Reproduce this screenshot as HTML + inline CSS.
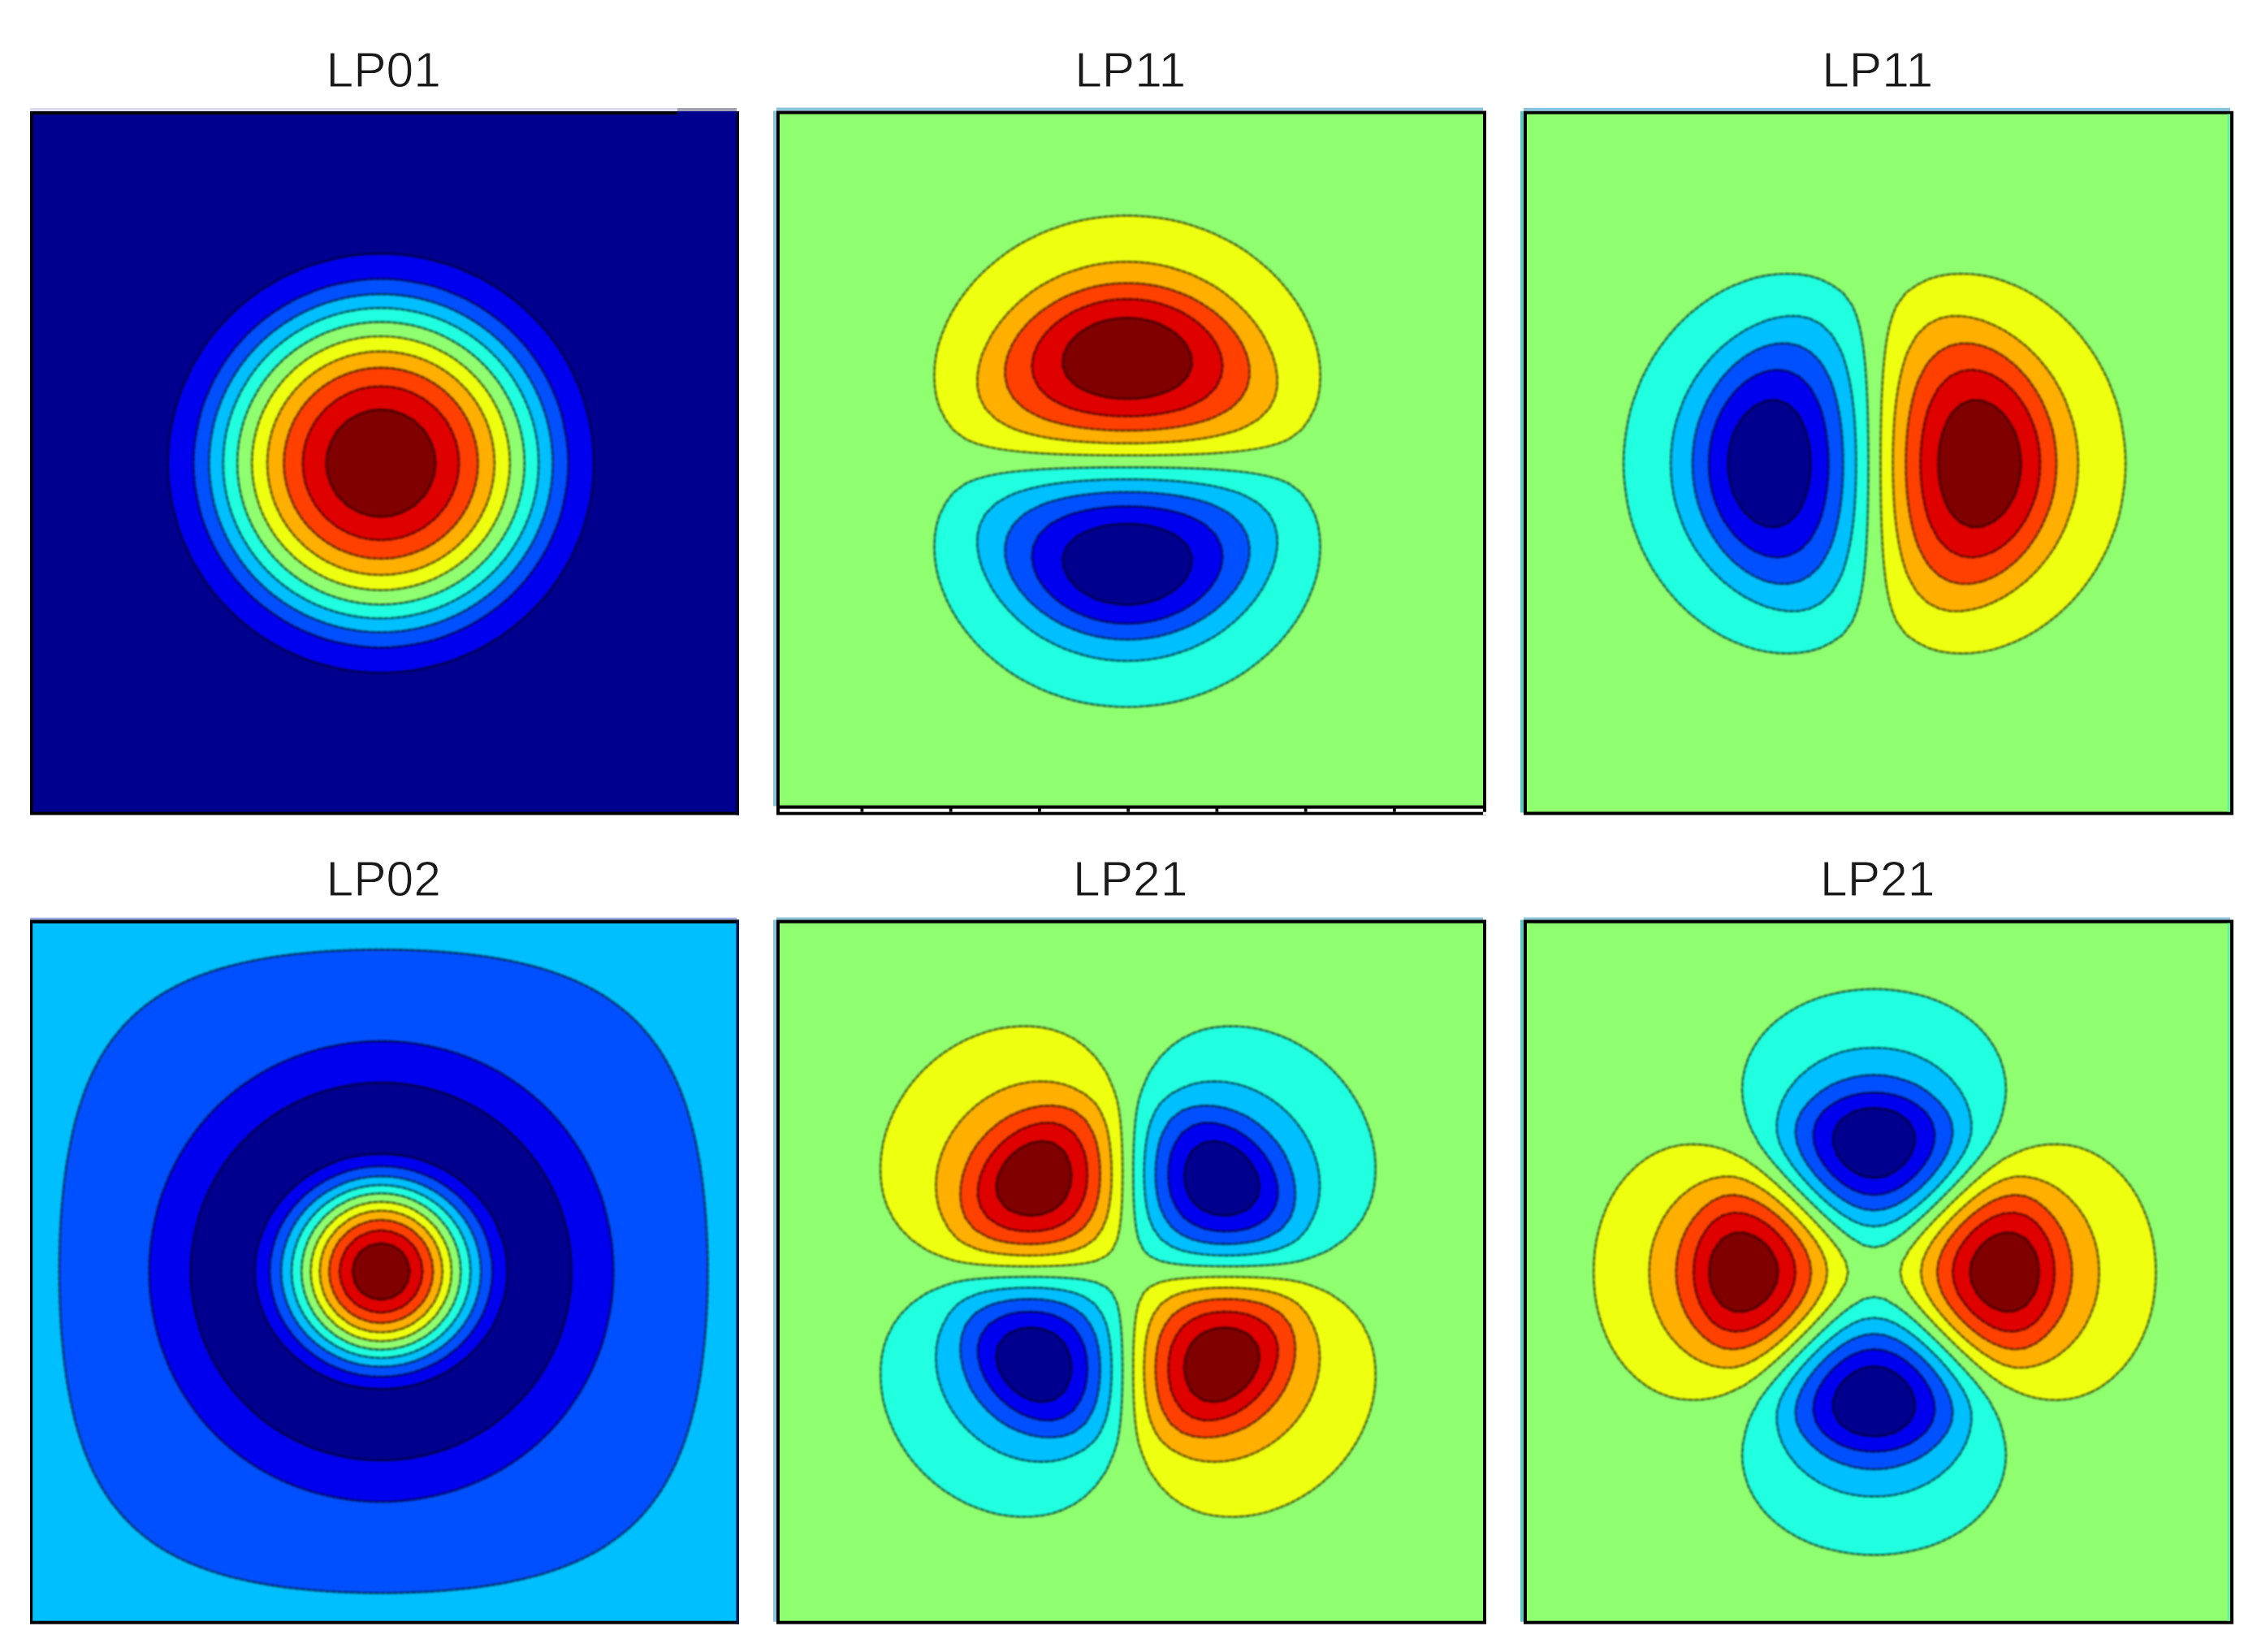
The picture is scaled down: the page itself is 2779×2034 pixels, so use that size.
<!DOCTYPE html>
<html lang="en"><head><meta charset="utf-8"><title>LP fiber modes</title>
<style>html,body{margin:0;padding:0;background:#fff}body{width:2779px;height:2034px;overflow:hidden;font-family:"Liberation Sans",sans-serif}svg{display:block}text{font-family:"Liberation Sans",sans-serif;font-size:60.6px;fill:#1a1a1a;text-anchor:middle;stroke:#fff;stroke-width:.9px;filter:blur(.6px)}.ct{filter:blur(1px)}.ln,.dt{stroke:#000;stroke-width:2.7;stroke-linejoin:round}.ln{stroke-opacity:0.46}.dt{fill-opacity:0;stroke-opacity:.26;stroke-dasharray:3.8 3.8}.c0{fill:#00008f}.c1{fill:#0000ef}.c2{fill:#0050ff}.c3{fill:#00bfff}.c4{fill:#20ffdf}.c5{fill:#8fff70}.c6{fill:#efff10}.c7{fill:#ffaf00}.c8{fill:#ff4000}.c9{fill:#df0000}.c10{fill:#800000}</style></head><body>
<svg width="2779" height="2034" viewBox="0 0 2779 2034">
<rect width="2779" height="2034" fill="#fff"/>
<!-- panel 1: LP01 -->
<rect x="37" y="133" width="797" height="4" fill="#e0dcf0"/>
<rect x="834" y="133" width="73" height="4" fill="#a0a0b0"/>
<rect x="37" y="137" width="873" height="866.5" fill="#000"/>
<rect x="40.5" y="141" width="866" height="858.6" fill="#00008f"/>
<svg class="ct" x="40.5" y="141" width="866" height="858.6" viewBox="40.5 141 866 858.6" overflow="hidden">
<g class="ln"><g id="m1">
<path class="c1" d="M535.5 819.4l-13.3 3.4l-13.3 2.5l-13.3 1.6l-13.3 1l-13.3 0.3l-13.3 -0.3l-13.3 -1l-13.3 -1.6l-13.3 -2.5l-13.3 -3.4l-1.5 -0.4l-11.8 -3.1l-13.3 -4.5l-13.3 -5.8l-13.3 -5.9l-13.3 -7.5l-13.3 -8l-13.3 -9.5l-13.3 -10.9l-11.2 -10.3l-2.1 -2.1l-10.5 -11l-11 -13l-9.6 -13.1l-8.2 -13.1l-7.6 -13.1l-6 -13.1l-5.9 -13.1l-4.6 -13.1l-3.1 -11.7l-0.5 -1.4l-3.4 -13l-2.5 -13.1l-1.7 -13.1l-1 -13.1l-0.3 -13.1l0.3 -13.1l1 -13.1l1.7 -13.1l2.5 -13.1l3.4 -13l0.5 -1.4l3.1 -11.7l4.6 -13.1l5.9 -13.1l6 -13.1l7.6 -13.1l8.2 -13.1l9.6 -13.1l11 -13l10.5 -11l2.2 -2.1l11.1 -10.3l13.3 -10.9l13.3 -9.4l13.3 -8.1l13.3 -7.5l13.3 -5.9l13.3 -5.8l13.3 -4.5l11.9 -3.1l1.4 -0.4l13.3 -3.4l13.3 -2.5l13.3 -1.6l13.3 -1l13.3 -0.3l13.3 0.3l13.3 1l13.3 1.6l13.3 2.5l13.3 3.4l1.4 0.4l11.9 3.1l13.3 4.5l13.3 5.8l13.3 5.9l13.3 7.5l13.3 8.1l13.3 9.4l13.3 10.9l11.2 10.3l2.1 2.1l10.5 11l11 13l9.6 13.1l8.2 13.1l7.6 13.1l6 13.1l5.9 13.1l4.6 13.1l3.1 11.6l0.5 1.5l3.4 13l2.5 13.1l1.7 13.1l1 13.1l0.3 13.1l-0.3 13.1l-1 13.1l-1.7 13.1l-2.5 13.1l-3.4 13l-0.5 1.5l-3.1 11.6l-4.6 13.1l-5.9 13.1l-6 13.1l-7.6 13.1l-8.2 13.1l-9.6 13.1l-8.2 9.8l-2.8 3.2l-10.5 11l-2.1 2.1l-11.2 10.3l-13.3 10.9l-13.3 9.5l-13.3 8l-13.3 7.5l-13.3 5.9l-13.3 5.8l-13.3 4.5l-11.8 3.1z"/>
<path class="c2" d="M508.9 793.5l-13.3 2.1l-13.3 1.3l-13.3 0.4l-13.3 -0.4l-13.3 -1.3l-13.3 -2.1l-3.2 -0.7l-10.1 -1.8l-13.3 -3.4l-13.3 -4.5l-8 -3.4l-5.3 -2l-13.3 -6.1l-8.6 -5l-4.7 -2.5l-13.3 -8.7l-13.3 -9.9l-6 -5.1l-7.3 -6.5l-6.6 -6.5l-6.7 -7.3l-5.2 -5.8l-10 -13.1l-8.8 -13.1l-2.6 -4.6l-5 -8.5l-6.3 -13.1l-2 -5.2l-3.5 -7.9l-4.6 -13.1l-3.3 -13l-1.9 -10l-0.7 -3.1l-2.2 -13.1l-1.2 -13.1l-0.5 -13.1l0.5 -13.1l1.2 -13.1l2.2 -13.1l0.7 -3.1l1.9 -10l3.3 -13l4.6 -13.1l3.5 -7.9l2 -5.2l6.3 -13.1l5 -8.5l2.6 -4.6l8.8 -13.1l10 -13.1l5.2 -5.8l6.7 -7.3l6.6 -6.5l7.3 -6.5l6 -5.1l13.3 -9.9l13.3 -8.7l4.7 -2.5l8.6 -5l13.3 -6.1l5.3 -2l8 -3.4l13.3 -4.5l13.3 -3.4l10.2 -1.8l3.1 -0.7l13.3 -2.1l13.3 -1.3l13.3 -0.4l13.3 0.4l13.3 1.3l13.3 2.1l3.1 0.7l10.2 1.8l13.3 3.4l13.3 4.5l8 3.4l5.3 2l13.3 6.1l8.6 5l4.7 2.5l13.3 8.7l13.3 9.9l6 5.1l7.3 6.5l6.6 6.5l6.7 7.3l5.2 5.8l10 13.1l8.8 13.1l2.6 4.6l5 8.5l6.3 13.1l2 5.2l3.5 7.9l4.6 13.1l3.3 13l1.9 10l0.7 3.1l2.2 13.1l1.3 13.1l0.4 13.1l-0.4 13.1l-1.3 13.1l-2.2 13.1l-0.7 3.1l-1.9 10l-3.3 13l-4.6 13.1l-3.5 7.9l-2 5.2l-6.3 13.1l-5 8.5l-2.6 4.6l-8.8 13.1l-10 13.1l-5.2 5.8l-6.7 7.3l-6.6 6.5l-7.3 6.5l-6 5.1l-13.3 9.9l-13.3 8.7l-4.7 2.5l-8.6 5l-13.3 6.1l-5.3 2l-8 3.4l-13.3 4.5l-13.3 3.4l-10.1 1.8z"/>
<path class="c3" d="M535.5 767.9l-13.3 3.8l-13.3 3l-13.3 2.1l-13.3 1.2l-13.3 0.4l-13.3 -0.4l-13.3 -1.2l-13.3 -2.1l-13.3 -3l-13.3 -3.8l-3.5 -1.3l-9.8 -3.6l-13.3 -5.8l-7 -3.7l-6.3 -3.4l-13.3 -8.2l-2 -1.5l-11.3 -8.3l-5.7 -4.7l-7.6 -6.9l-6.3 -6.2l-7 -7.5l-4.8 -5.6l-8.5 -11.1l-1.4 -2l-8.4 -13.1l-3.5 -6.2l-3.7 -6.9l-5.9 -13.1l-5 -13.1l-3.9 -13l-3 -13.1l-2.1 -13.1l-1.3 -13.1l-0.4 -13.1l0.4 -13.1l1.3 -13.1l2.1 -13.1l3 -13.1l3.9 -13l1.3 -3.4l3.7 -9.7l5.9 -13.1l3.7 -6.9l3.5 -6.2l8.4 -13.1l1.4 -2l8.5 -11.1l4.8 -5.5l7 -7.6l6.3 -6.2l7.6 -6.9l5.7 -4.7l11.3 -8.3l2 -1.5l13.3 -8.2l6.3 -3.4l7 -3.6l13.3 -5.9l13.3 -4.9l13.3 -3.8l13.3 -3l13.3 -2l13.3 -1.3l13.3 -0.4l13.3 0.4l13.3 1.3l13.3 2l13.3 3l13.3 3.8l3.4 1.3l9.9 3.6l13.3 5.9l7 3.6l6.3 3.4l13.3 8.2l2 1.5l11.3 8.3l5.7 4.7l7.6 6.9l6.3 6.2l7 7.6l4.8 5.5l8.5 11.1l1.4 2l8.4 13.1l3.5 6.2l3.7 6.9l5.9 13.1l5 13.1l3.9 13l3 13.1l2.1 13.1l1.3 13.1l0.4 13.1l-0.4 13.1l-1.3 13.1l-2.1 13.1l-3 13.1l-3.9 13l-1.3 3.4l-3.7 9.7l-5.9 13.1l-3.7 6.9l-3.5 6.2l-8.4 13.1l-1.4 2l-8.5 11.1l-4.8 5.6l-7 7.5l-6.3 6.2l-7.6 6.9l-5.7 4.7l-11.3 8.3l-2 1.5l-13.3 8.2l-6.3 3.4l-7 3.7l-13.3 5.8z"/>
<path class="c4" d="M522.2 754.1l-13.3 3.2l-13.3 2.3l-13.3 1.4l-13.3 0.4l-13.3 -0.4l-13.3 -1.4l-13.3 -2.3l-13.3 -3.2l-13.3 -4.3l-13.3 -5.3l-8.5 -4.1l-4.8 -2.4l-13.3 -7.8l-4.2 -2.8l-9.1 -6.7l-7.9 -6.4l-5.4 -4.8l-8.5 -8.3l-4.8 -5.3l-6.6 -7.8l-6.7 -9l-2.8 -4.1l-8 -13.1l-2.5 -4.7l-4.1 -8.4l-5.5 -13.1l-4.3 -13l-3.3 -13.1l-2.3 -13.1l-1.4 -13.1l-0.4 -13.1l0.5 -13.1l1.3 -13.1l2.3 -13.1l3.3 -13.1l4.3 -13l5.5 -13.1l4.1 -8.4l2.5 -4.7l8 -13.1l2.8 -4.1l6.7 -9l6.6 -7.8l4.9 -5.3l8.4 -8.3l5.4 -4.8l7.9 -6.4l9.2 -6.7l4.1 -2.8l13.3 -7.8l4.8 -2.4l8.5 -4.1l13.3 -5.3l13.3 -4.3l13.3 -3.2l13.3 -2.3l13.3 -1.3l13.3 -0.5l13.3 0.4l13.3 1.4l13.3 2.3l13.3 3.2l13.3 4.3l13.3 5.3l8.5 4.1l4.8 2.4l13.3 7.8l4.1 2.8l9.2 6.7l7.9 6.4l5.4 4.8l8.4 8.3l4.9 5.3l6.6 7.8l6.7 9l2.8 4.1l8 13.1l2.5 4.7l4.1 8.4l5.5 13.1l4.3 13l3.3 13.1l2.3 13.1l1.4 13.1l0.4 13.1l-0.4 13.1l-1.4 13.1l-2.3 13.1l-3.3 13.1l-4.3 13l-5.5 13.1l-4.1 8.4l-2.5 4.7l-8 13.1l-2.8 4.1l-6.7 9l-6.6 7.8l-4.8 5.3l-8.5 8.3l-5.4 4.8l-7.9 6.4l-9.1 6.7l-4.2 2.8l-13.3 7.8l-4.8 2.4l-8.5 4.1l-13.3 5.4z"/>
<path class="c5" d="M495.6 742.3l-13.3 1.5l-13.3 0.5l-13.3 -0.5l-13.3 -1.5l-13.3 -2.5l-13.3 -3.6l-13.3 -4.7l-9.4 -4.1l-3.9 -1.9l-13.3 -7.3l-6 -3.9l-7.3 -5.1l-10 -8l-3.3 -2.9l-10.3 -10.2l-3 -3.3l-8.1 -9.8l-5.2 -7.2l-3.9 -5.9l-7.5 -13.1l-1.9 -3.9l-4.2 -9.2l-4.8 -13l-3.6 -13.1l-2.6 -13.1l-1.5 -13.1l-0.5 -13.1l0.5 -13.1l1.5 -13.1l2.6 -13.1l3.6 -13.1l4.8 -13l4.2 -9.2l1.9 -3.9l7.5 -13.1l3.9 -5.9l5.2 -7.2l8.1 -9.8l3 -3.3l10.3 -10.2l3.3 -2.9l10 -8l7.3 -5.1l6 -3.8l13.3 -7.4l4 -1.9l9.3 -4.1l13.3 -4.7l13.3 -3.6l13.3 -2.5l13.3 -1.5l13.3 -0.4l13.3 0.4l13.3 1.5l13.3 2.5l13.3 3.6l13.3 4.7l9.3 4.1l4 1.9l13.3 7.4l6 3.8l7.3 5.1l10 8l3.3 2.9l10.3 10.2l3 3.3l8.1 9.8l5.2 7.2l3.9 5.9l7.5 13.1l1.9 3.9l4.2 9.2l4.8 13l3.6 13.1l2.6 13.1l1.5 13.1l0.5 13.1l-0.5 13.1l-1.5 13.1l-2.6 13.1l-3.6 13.1l-4.8 13l-4.2 9.2l-1.9 3.9l-7.5 13.1l-3.9 5.9l-5.2 7.2l-8.1 9.8l-3 3.3l-10.3 10.2l-3.3 2.9l-10 8l-7.3 5.1l-6 3.9l-13.3 7.3l-3.9 1.9l-9.4 4.1l-13.3 4.7l-13.3 3.6z"/>
<path class="c6" d="M522.2 717.6l-13.3 4l-13.3 2.8l-13.3 1.7l-13.3 0.5l-13.3 -0.5l-13.3 -1.7l-13.3 -2.8l-13.3 -4l-8.5 -3.3l-4.8 -2l-13.3 -6.9l-6.9 -4.2l-6.4 -4.3l-11.3 -8.8l-2 -1.7l-11.5 -11.4l-1.8 -2l-9 -11.1l-4.3 -6.3l-4.3 -6.8l-7 -13.1l-2 -4.7l-3.4 -8.3l-4 -13.1l-2.9 -13.1l-1.7 -13.1l-0.6 -13.1l0.6 -13.1l1.7 -13.1l2.9 -13.1l4 -13.1l3.4 -8.3l2 -4.7l7 -13.1l4.3 -6.8l4.4 -6.3l8.9 -11.1l1.8 -2l11.5 -11.3l2 -1.8l11.3 -8.8l6.4 -4.3l6.9 -4.2l13.3 -6.8l4.9 -2.1l8.4 -3.3l13.3 -4l13.3 -2.8l13.3 -1.7l13.3 -0.5l13.3 0.5l13.3 1.7l13.3 2.8l13.3 4l8.5 3.3l4.8 2.1l13.3 6.8l6.9 4.2l6.4 4.3l11.3 8.8l2 1.7l11.5 11.4l1.8 2l9 11.1l4.3 6.3l4.3 6.8l7 13.1l2 4.7l3.4 8.3l4 13.1l2.9 13.1l1.7 13.1l0.6 13.1l-0.6 13.1l-1.7 13.1l-2.9 13.1l-4 13.1l-3.4 8.3l-2 4.7l-7 13.1l-4.3 6.8l-4.3 6.3l-9 11.1l-1.8 2l-11.5 11.4l-2 1.7l-11.3 8.8l-6.4 4.3l-6.9 4.2l-13.3 6.9l-4.8 2z"/>
<path class="c7" d="M508.9 702.4l-13.3 3.1l-13.3 1.9l-13.3 0.6l-13.3 -0.6l-13.3 -1.9l-13.3 -3.1l-3.6 -1.2l-9.7 -3.5l-13.3 -6.2l-5.9 -3.4l-7.4 -4.7l-11.2 -8.4l-2.1 -1.8l-11.4 -11.3l-1.9 -2.1l-8.6 -11l-4.7 -7.2l-3.5 -5.9l-6.3 -13l-3.5 -9.6l-1.2 -3.5l-3.2 -13.1l-1.9 -13.1l-0.7 -13.1l0.7 -13.1l1.9 -13.1l3.2 -13.1l1.2 -3.5l3.5 -9.6l6.3 -13l3.5 -5.9l4.7 -7.2l8.6 -11l1.9 -2.1l11.4 -11.3l2.2 -1.8l11.1 -8.4l7.4 -4.7l5.9 -3.4l13.3 -6.2l9.7 -3.5l3.6 -1.2l13.3 -3.1l13.3 -1.9l13.3 -0.6l13.3 0.6l13.3 1.9l13.3 3.1l3.6 1.2l9.7 3.5l13.3 6.2l5.9 3.4l7.4 4.7l11.1 8.4l2.2 1.8l11.4 11.3l1.9 2.1l8.6 11l4.7 7.2l3.5 5.9l6.3 13l3.5 9.6l1.2 3.5l3.2 13.1l1.9 13.1l0.7 13.1l-0.7 13.1l-1.9 13.1l-3.2 13.1l-1.2 3.5l-3.5 9.6l-6.3 13l-3.5 5.9l-4.7 7.2l-8.6 11l-1.9 2.1l-11.4 11.3l-2.1 1.8l-11.2 8.4l-7.4 4.7l-5.9 3.4l-13.3 6.2l-9.7 3.5z"/>
<path class="c8" d="M522.2 675.7l-13.3 5.4l-13.3 3.9l-13.3 2.3l-13.3 0.7l-13.3 -0.7l-13.3 -2.3l-13.3 -3.9l-13.3 -5.4l-1.4 -0.7l-11.9 -7l-8.4 -6.1l-4.9 -4.1l-9.2 -9l-4.1 -4.8l-6.2 -8.3l-7.1 -11.7l-0.7 -1.3l-5.5 -13.1l-3.9 -13.1l-2.4 -13.1l-0.7 -13.1l0.7 -13.1l2.4 -13.1l3.9 -13.1l5.5 -13.1l0.7 -1.3l7.1 -11.7l6.2 -8.3l4.2 -4.8l9.1 -9l4.9 -4.1l8.4 -6.1l12 -7l1.3 -0.7l13.3 -5.4l13.3 -3.9l13.3 -2.3l13.3 -0.7l13.3 0.7l13.3 2.3l13.3 3.9l13.3 5.4l1.3 0.7l12 7l8.4 6.1l4.9 4.1l9.1 9l4.2 4.8l6.2 8.3l7.1 11.7l0.7 1.3l5.5 13.1l3.9 13.1l2.4 13.1l0.7 13.1l-0.7 13.1l-2.4 13.1l-3.9 13.1l-5.5 13.1l-0.7 1.3l-7.1 11.7l-6.2 8.3l-4.1 4.8l-9.2 9l-4.9 4.1l-8.4 6.1l-11.9 7z"/>
<path class="c9" d="M482.3 664.2l-13.3 0.9l-13.3 -0.9l-13.3 -2.7l-13.3 -5l-13.3 -7.1l-0.8 -0.6l-12.5 -10l-3.1 -3.1l-10.2 -12.2l-0.6 -0.8l-7.2 -13.1l-5.1 -13.1l-2.7 -13.1l-0.9 -13.1l0.9 -13.1l2.7 -13.1l5.1 -13.1l7.2 -13.1l0.6 -0.8l10.2 -12.2l3.1 -3.1l12.5 -10l0.8 -0.6l13.3 -7.1l13.3 -5l13.3 -2.7l13.3 -0.8l13.3 0.8l13.3 2.7l13.3 5l13.3 7.1l0.8 0.6l12.5 10l3.1 3.1l10.2 12.2l0.6 0.8l7.2 13.1l5.1 13.1l2.7 13.1l0.9 13.1l-0.9 13.1l-2.7 13.1l-5.1 13.1l-7.2 13.1l-0.6 0.8l-10.2 12.2l-3.1 3.1l-12.5 10l-0.8 0.6l-13.3 7.1l-13.3 5z"/>
<path class="c10" d="M469.0 636.5l-8.6 -0.8l-4.7 -0.5l-13.3 -4.3l-13.3 -7.3l-1.2 -0.9l-12.1 -11.9l-1 -1.2l-7.4 -13.1l-4.4 -13.1l-0.5 -4.7l-0.8 -8.4l0.8 -8.4l0.5 -4.7l4.4 -13.1l7.4 -13.1l1 -1.2l12.1 -11.9l1.2 -0.9l13.3 -7.3l13.3 -4.3l4.8 -0.5l8.5 -0.8l8.5 0.8l4.8 0.5l13.3 4.3l13.3 7.3l1.2 0.9l12.1 11.9l1 1.2l7.4 13.1l4.4 13.1l0.5 4.7l0.8 8.4l-0.8 8.4l-0.5 4.7l-4.4 13.1l-7.4 13.1l-1 1.2l-12.1 11.9l-1.2 0.9l-13.3 7.3l-13.3 4.3l-4.7 0.5z"/>
</g></g><use href="#m1" class="dt"/></svg>
<rect x="834" y="137" width="72.5" height="4" fill="#00008f"/>
<rect x="906.5" y="137" width="3.5" height="866.5" fill="#000030"/>
<text x="472.2" y="107.1">LP01</text>
<!-- panel 2: LP11 -->
<rect x="956" y="132.5" width="870" height="4" fill="#88c4dc"/>
<rect x="952" y="136.5" width="4" height="856.1" fill="#88c4dc"/>
<rect x="956" y="136.5" width="874" height="867" fill="#000"/>
<rect x="960" y="140.5" width="866" height="851.1" fill="#8fff70"/>
<svg class="ct" x="960" y="140.5" width="866" height="851.1" viewBox="960 140.5 866 851.1" overflow="hidden">
<g class="ln"><g id="m2">
<path class="c6" d="M1521.0 556.0l-13.3 1.2l-13.3 0.9l-13.3 0.7l-13.3 0.6l-13.3 0.4l-13.3 0.4l-26.6 0.4l-13.3 0.1l-26.6 0l-26.6 -0.3l-26.6 -0.6l-13.3 -0.4l-13.3 -0.6l-13.3 -0.7l-13.3 -0.9l-13.3 -1.2l-13.3 -1.5l-13.3 -2l-13.3 -2.7l-13.3 -3.8l-10.5 -4.2l-2.8 -1.5l-13.3 -9.8l-2 -1.8l-9.6 -13.1l-1.7 -3.9l-4.8 -9.1l-4 -13.1l-2.1 -13.1l-0.7 -13.1l0.6 -13.1l1.7 -13.1l3 -13.1l4.4 -13.1l1.9 -4.3l3.4 -8.7l6.6 -13.1l7.9 -13.1l9.6 -13.1l10.9 -13.1l1.5 -1.6l11.5 -11.5l1.8 -1.7l13.3 -11.2l13.3 -10l13.3 -8.5l13.3 -7.1l1.7 -0.7l11.6 -5.8l13.3 -5.3l6.3 -2l7 -2.6l13.3 -3.9l13.3 -3l13.3 -2.2l13.3 -1.5l13.3 -1.1l13.3 -0.4l13.3 0.4l13.3 1.1l13.3 1.5l13.3 2.2l13.3 3l13.3 3.9l7 2.6l6.3 2l13.3 5.3l11.6 5.8l1.7 0.7l13.3 7.1l13.3 8.5l13.3 10l13.3 11.2l1.9 1.7l11.4 11.5l1.5 1.6l10.9 13.1l9.6 13.1l7.9 13.1l6.6 13.1l3.4 8.6l1.9 4.4l4.4 13.1l3 13.1l1.8 13.1l0.5 13.1l-0.6 13.1l-2.1 13.1l-4.1 13.1l-4.8 9.1l-1.7 3.9l-9.5 13.1l-2.1 1.8l-13.3 9.8l-2.8 1.5l-10.5 4.2l-13.3 3.8l-13.3 2.7l-13.3 2z"/>
<path class="c4" d="M1415.0 869.0l12.9 -1.4l13.3 -2.2l13.3 -3l13.3 -3.9l7 -2.6l6.3 -2l13.3 -5.3l11.6 -5.8l1.7 -0.7l13.3 -7.1l13.3 -8.5l13.1 -9.8l13.5 -11.4l1.9 -1.7l11.4 -11.5l1.5 -1.6l10.9 -13.1l9.6 -13.1l7.9 -13.1l6.6 -13.1l3.4 -8.6l1.9 -4.4l4.4 -13.1l3 -13.1l1.7 -13.1l0.6 -13.1l-0.7 -13.1l-2.1 -13.1l-4 -13.1l-4.8 -9.1l-1.7 -3.9l-9.6 -13.1l-2 -1.8l-13.3 -9.8l-2.8 -1.5l-10.5 -4.2l-13.3 -3.8l-13.3 -2.7l-13.3 -2l-13.3 -1.5l-13.3 -1.2l-13.3 -0.9l-13.3 -0.7l-13.3 -0.6l-13.3 -0.4l-26.6 -0.6l-13.3 -0.2l-26.6 -0.1l-26.6 0.1l-13.3 0.2l-26.6 0.6l-13.3 0.4l-13.3 0.6l-13.3 0.7l-13.3 0.9l-13.3 1.2l-13.3 1.5l-13.3 2l-13.3 2.7l-13.3 3.8l-10.5 4.2l-2.8 1.5l-13.3 9.8l-2 1.8l-9.6 13.1l-1.7 3.9l-4.8 9.1l-4 13.1l-2.1 13.1l-0.7 13.1l0.6 13.1l1.7 13.1l3 13.1l4.4 13.1l1.9 4.4l3.4 8.6l6.6 13.1l7.9 13.1l9.6 13.1l10.9 13.1l1.5 1.6l11.4 11.5l1.9 1.7l13.3 11.2l13.3 10l13.3 8.5l13.3 7.1l1.7 0.7l11.6 5.8l13.3 5.3l6.3 2l7 2.6l13.3 3.9l13.3 3l13.3 2.2l13.3 1.5l13.3 1.1l13.3 0.3l13.3 -0.3z"/>
<path class="c7" d="M1454.5 543.1l-13.3 1.1l-13.3 0.7l-13.3 0.6l-13.3 0.3l-13.3 0.1l-13.3 -0.1l-13.3 -0.3l-13.3 -0.6l-13.3 -0.8l-13.3 -1l-13.3 -1.4l-13.3 -1.9l-13.3 -2.3l-13.3 -3.1l-13.3 -3.9l-5.1 -1.8l-8.2 -3.6l-13.3 -7.6l-2.7 -1.9l-10.6 -10.6l-2.1 -2.4l-6.7 -13.1l-2.9 -13.1l-0.1 -13.1l2 -13.1l3.7 -13.1l5.8 -13.1l6.8 -13.1l9 -13l11.1 -13.3l13.3 -13l13.3 -10.9l13.3 -9l13.3 -7.2l13.3 -6.4l13.3 -4.8l3.2 -0.9l10.1 -3.3l13.3 -3.1l13.3 -2.1l13.3 -1.3l13.3 -0.4l13.3 0.4l13.3 1.3l13.3 2.1l13.3 3.1l10.1 3.3l3.2 0.9l13.3 4.8l13.3 6.4l13.3 7.2l13.3 9l13.3 10.9l13.3 13l11.2 13.3l8.9 13l6.8 13.1l5.8 13.1l3.7 13.1l2 13.1l-0.1 13.1l-2.9 13.1l-6.7 13.1l-2.1 2.4l-10.6 10.6l-2.7 1.9l-13.3 7.6l-8.1 3.6l-5.2 1.9l-13.3 3.8l-13.3 3.1l-13.3 2.4l-13.3 1.8z"/>
<path class="c3" d="M1451.3 803.6l3.2 -0.9l13.3 -4.8l13.3 -6.4l13.3 -7.2l13.3 -9l13.3 -10.8l13.3 -13.1l11.2 -13.3l8.9 -13l6.8 -13.1l5.8 -13.1l3.7 -13.1l2 -13.1l-0.1 -13.1l-2.9 -13.1l-6.7 -13.1l-2.1 -2.4l-10.6 -10.6l-2.7 -1.9l-13.3 -7.6l-8.2 -3.6l-5.1 -1.8l-13.3 -3.9l-13.3 -3.1l-13.3 -2.3l-13.3 -1.9l-13.3 -1.4l-13.3 -1l-13.3 -0.8l-13.3 -0.6l-13.3 -0.3l-13.3 -0.1l-13.3 0.1l-13.3 0.3l-13.3 0.6l-13.3 0.8l-13.3 1l-13.3 1.4l-13.3 1.9l-13.3 2.3l-13.3 3.1l-13.3 3.9l-5.1 1.8l-8.2 3.6l-13.3 7.6l-2.7 1.9l-10.6 10.6l-2.1 2.4l-6.7 13.1l-2.9 13.1l-0.1 13.1l2 13.1l3.7 13.1l5.8 13.1l6.8 13.1l8.9 13l11.2 13.3l13.3 13.1l13.3 10.8l13.3 9.1l13.3 7.1l13.3 6.4l13.3 4.8l3.2 0.9l10.1 3.3l13.3 3.1l13.3 2.2l13.3 1.2l13.3 0.4l13.3 -0.4l13.3 -1.3l13.3 -2.1l13.3 -3.1z"/>
<path class="c2" d="M1447.3 777.4l7.2 -2.5l13.3 -5.7l8.7 -4.9l4.6 -2.7l13.3 -9l1.7 -1.4l11.6 -10.2l2.9 -2.9l11 -13l8.1 -13.1l5.6 -13.1l3 -13.1l0.3 -13.1l-2.9 -13.1l-1.4 -3l-5.6 -10.1l-7.7 -8.1l-5.6 -5l-7.7 -4.8l-13.3 -6.7l-3.8 -1.5l-9.5 -3.2l-13.3 -3.4l-13.3 -2.7l-13.3 -2.1l-13.3 -1.5l-13.3 -1l-13.3 -0.6l-13.3 -0.1l-13.3 0.1l-13.3 0.6l-13.3 1l-13.3 1.5l-13.3 2.1l-13.3 2.7l-13.3 3.4l-9.5 3.2l-3.8 1.5l-13.3 6.7l-7.8 4.8l-5.5 5l-7.7 8.1l-5.6 10.1l-1.5 3l-2.8 13.1l0.3 13.1l3 13.1l5.6 13.1l8.1 13.1l11 13l2.9 2.9l11.6 10.2l1.7 1.4l13.3 9l4.6 2.7l8.7 4.9l13.3 5.7l7.2 2.5l6.1 2.3l13.3 3.6l13.3 2.4l13.3 1.4l13.3 0.5l13.3 -0.5l13.3 -1.4l13.3 -2.4l13.3 -3.6z"/>
<path class="c8" d="M1414.6 529.5l-13.3 0.6l-13.3 0.1l-13.3 -0.1l-13.3 -0.6l-13.3 -1l-13.3 -1.5l-13.3 -2l-13.3 -2.8l-13.3 -3.4l-9.5 -3.2l-3.8 -1.5l-13.3 -6.7l-7.8 -4.8l-5.5 -5l-7.7 -8.1l-5.6 -10.1l-1.5 -3l-2.8 -13.1l0.3 -13.1l3.1 -13.1l5.5 -13.1l8.1 -13.1l11 -13l2.9 -2.8l11.6 -10.3l1.7 -1.4l13.3 -8.9l4.7 -2.8l8.6 -4.9l13.3 -5.7l7.3 -2.5l6 -2.2l13.3 -3.7l13.3 -2.4l13.3 -1.4l13.3 -0.4l13.3 0.4l13.3 1.4l13.3 2.4l13.3 3.6l6.1 2.3l7.2 2.5l13.3 5.7l8.6 4.9l4.7 2.8l13.3 8.9l1.7 1.4l11.6 10.3l2.9 2.8l11 13l8.1 13.1l5.6 13.1l3 13.1l0.3 13.1l-2.8 13.1l-1.5 3l-5.6 10.1l-7.7 8.2l-5.5 4.9l-7.8 4.8l-13.3 6.7l-3.8 1.5l-9.5 3.2l-13.3 3.5l-13.3 2.7l-13.3 2l-13.3 1.5z"/>
<path class="c1" d="M1420.7 764.3l7.2 -1.7l13.3 -4.5l13.3 -5.9l1.9 -1l11.4 -7.1l8.1 -6l5.2 -4.8l8 -8.2l5.3 -7.5l3.7 -5.6l5.4 -13.1l2 -13.1l-1.7 -13.1l-6.3 -13.1l-3.1 -3.6l-9.9 -9.5l-3.4 -2.2l-13.3 -7l-9.3 -3.9l-4 -1.2l-13.3 -3.4l-13.3 -2.5l-13.3 -1.7l-13.3 -1l-13.3 -0.3l-13.3 0.3l-13.3 1l-13.3 1.7l-13.3 2.5l-13.3 3.4l-4 1.2l-9.3 3.9l-13.3 7l-3.4 2.2l-9.9 9.5l-3.1 3.6l-6.3 13.1l-1.7 13.1l2 13.1l5.4 13.1l3.7 5.6l5.3 7.5l8 8.2l5.2 4.8l8.1 6l11.4 7.1l1.9 1l13.3 5.9l13.3 4.5l7.2 1.7l6.1 1.3l13.3 1.7l13.3 0.6l13.3 -0.6l13.3 -1.7z"/>
<path class="c9" d="M1454.5 503.9l-13.3 3.3l-13.3 2.5l-13.3 1.7l-13.3 1l-13.3 0.3l-13.3 -0.3l-13.3 -1l-13.3 -1.7l-13.3 -2.5l-13.3 -3.4l-4 -1.2l-9.3 -3.9l-13.3 -7l-3.4 -2.2l-9.9 -9.5l-3.1 -3.6l-6.3 -13.1l-1.7 -13.1l2 -13.1l5.4 -13.1l3.7 -5.6l5.3 -7.5l8 -8.2l5.2 -4.8l8.1 -6l11.4 -7.1l1.9 -1l13.3 -5.8l13.3 -4.5l7.3 -1.8l6 -1.3l13.3 -1.7l13.3 -0.6l13.3 0.6l13.3 1.7l6 1.3l7.3 1.8l13.3 4.5l13.3 5.8l1.9 1l11.4 7.1l8.1 6l5.2 4.8l8 8.2l5.3 7.5l3.7 5.6l5.4 13.1l2 13.1l-1.7 13.1l-6.2 13.1l-3.2 3.6l-9.9 9.5l-3.4 2.2l-13.3 7l-9.3 3.9z"/>
<path class="c0" d="M1425.7 738.1l2.2 -0.8l13.3 -7.3l7.2 -4.9l6.1 -6l6.1 -7.1l6.2 -13.1l0.9 -13.1l-5.2 -13.1l-8 -8.5l-5.6 -4.6l-7.7 -4l-13.3 -5.1l-13.3 -3.4l-3.6 -0.6l-9.7 -1.1l-13.3 -0.5l-13.3 0.5l-9.7 1.1l-3.6 0.6l-13.3 3.4l-13.3 5.1l-7.7 4l-5.6 4.6l-8 8.5l-5.2 13.1l0.9 13.1l6.2 13.1l6.1 7.1l6 6l7.3 4.9l13.3 7.3l2.2 0.8l11.1 3.4l13.3 2.5l13.3 0.8l13.3 -0.8l13.3 -2.5z"/>
<path class="c10" d="M1401.3 490.6l-13.3 0.5l-13.3 -0.5l-9.8 -1.1l-3.5 -0.6l-13.3 -3.4l-13.3 -5.1l-7.7 -4l-5.6 -4.6l-8 -8.5l-5.2 -13.1l0.9 -13.1l6.2 -13.1l6.1 -7l6.1 -6.1l7.2 -4.9l13.3 -7.2l2.3 -0.9l11 -3.4l13.3 -2.5l13.3 -0.8l13.3 0.8l13.3 2.5l11 3.4l2.3 0.8l13.3 7.3l7.2 4.9l6.1 6.1l6.1 7l6.2 13.1l0.9 13.1l-5.2 13.1l-8 8.5l-5.6 4.6l-7.7 4l-13.3 5.1l-13.3 3.4l-3.5 0.6z"/>
</g></g><use href="#m2" class="dt"/></svg>
<rect x="960" y="995.7" width="866" height="4" fill="#fff"/>
<rect x="1059.5" y="993" width="3.8" height="6.7" fill="#000"/>
<rect x="1168.75" y="993" width="3.8" height="6.7" fill="#000"/>
<rect x="1278" y="993" width="3.8" height="6.7" fill="#000"/>
<rect x="1387.25" y="993" width="3.8" height="6.7" fill="#000"/>
<rect x="1496.5" y="993" width="3.8" height="6.7" fill="#000"/>
<rect x="1605.75" y="993" width="3.8" height="6.7" fill="#000"/>
<rect x="1715" y="993" width="3.8" height="6.7" fill="#000"/>
<rect x="1826" y="999.7" width="4" height="3.8" fill="#fff"/>
<text x="1391.7" y="107.1">LP11</text>
<!-- panel 3: LP11 -->
<rect x="1876" y="132.8" width="870" height="4" fill="#88c4dc"/>
<rect x="1872" y="136.8" width="4" height="863.7" fill="#58c8c0"/>
<rect x="1876" y="136.8" width="874" height="866.7" fill="#000"/>
<rect x="1880" y="140.6" width="866" height="858.9" fill="#8fff70"/>
<svg class="ct" x="1880" y="140.6" width="866" height="858.9" viewBox="1880 140.6 866 858.9" overflow="hidden">
<g class="ln"><g id="m3">
<path class="c6" d="M2467.6 795.5l-13.3 4.2l-13.3 2.8l-13.3 1.6l-13.3 0.5l-13.3 -0.7l-13.3 -2l-13.3 -4l-11.3 -5.7l-2 -0.9l-13.3 -9.2l-2.6 -2.9l-9.6 -13.1l-1.1 -2l-4.4 -11l-3.8 -13l-2.7 -13l-2 -13.1l-1.5 -13l-1.2 -13l-0.9 -13l-0.7 -13l-0.6 -13.1l-0.4 -13l-0.4 -13l-0.4 -26.1l-0.1 -26l0.1 -26l0.4 -26.1l0.4 -13l0.4 -13l0.6 -13.1l0.7 -13l0.9 -13l1.2 -13l1.5 -13l2 -13.1l2.7 -13l3.8 -13l4.4 -10.9l1.2 -2.1l9.5 -13.1l2.6 -2.9l13.3 -9.2l2 -0.9l11.3 -5.7l13.3 -3.9l13.3 -2.1l13.3 -0.7l13.3 0.5l13.3 1.6l13.3 2.8l13.3 4.2l8.1 3.3l5.2 1.9l13.3 6.3l13.3 7.7l13.3 9.2l13.3 10.5l3.9 3.5l9.4 9l3.9 4l9.4 10.8l1.9 2.2l9.8 13.1l8.7 13l7.2 13l6.6 13l5.2 13l0.5 1.6l4.4 11.5l3.9 13l2.9 13l2.1 13l1.9 13.1l1.1 13l0.3 13l-0.3 13l-1.1 13l-1.9 13.1l-2.1 13l-2.9 13l-3.9 13l-4.4 11.6l-0.5 1.5l-5.2 13l-6.6 13l-7.2 13l-8.7 13l-9.8 13.1l-11.3 13l-3.9 4l-9.4 9l-3.9 3.5l-13.3 10.5l-13.3 9.2l-13.3 7.7l-13.3 6.3l-5.1 1.9z"/>
<path class="c4" d="M2252.8 792.2l2 -0.9l13.3 -9.2l2.6 -2.9l9.6 -13.1l1.1 -2l4.4 -11l3.8 -13l2.7 -13l2 -13.1l1.5 -13l1.2 -13l0.9 -13l0.7 -13l0.6 -13.1l0.4 -13l0.4 -13l0.4 -26.1l0.2 -26l-0.2 -26l-0.4 -26.1l-0.3 -13l-0.5 -13l-0.6 -13.1l-0.7 -13l-0.9 -13l-1.2 -13l-1.5 -13l-2 -13.1l-2.7 -13l-3.8 -13l-4.4 -11l-1.1 -2l-9.6 -13.1l-2.6 -2.9l-13.3 -9.2l-2 -0.9l-11.3 -5.7l-13.3 -4l-13.3 -2l-13.3 -0.7l-13.3 0.5l-13.3 1.6l-13.3 2.8l-13.3 4.2l-8.1 3.3l-5.2 1.9l-13.3 6.3l-13.3 7.8l-13.3 9.2l-13.3 10.5l-3.8 3.4l-9.5 9.1l-3.8 3.9l-11.3 13l-9.8 13.1l-8.7 13l-7.2 13l-6.6 13l-5.2 13l-0.6 2l-4.2 11.1l-3.9 13l-2.9 13l-2.2 13l-1.8 13.1l-1.1 13l-0.3 13l0.3 13l1.1 13l1.8 13.1l2.2 13l2.9 13l3.9 13l4.2 11.1l0.6 2l5.2 13l6.6 13l7.2 13l8.7 13l9.8 13.1l11.3 13l3.8 3.9l9.5 9.1l3.8 3.4l13.3 10.5l13.3 9.2l13.3 7.8l13.3 6.3l5.2 1.9l8.1 3.3l13.3 4.2l13.3 2.8l13.3 1.6l13.3 0.5l13.3 -0.7l13.3 -2l13.3 -4z"/>
<path class="c7" d="M2454.3 741.7l-13.3 5.5l-13.3 3.4l-13.3 2l-13.3 -0.2l-13.3 -2.9l-13.3 -6.7l-3.2 -2.7l-10.1 -9.9l-2.2 -3.1l-7.5 -13.1l-3.6 -7.8l-1.9 -5.2l-3.9 -13l-3 -13l-2.4 -13l-1.9 -13.1l-1.4 -13l-1.1 -13l-0.7 -13l-0.6 -13.1l-0.3 -13l-0.1 -13l0.1 -13l0.3 -13l0.6 -13.1l0.7 -13l1.1 -13l1.4 -13l1.9 -13.1l2.4 -13l3 -13l3.9 -13l1.9 -5.2l3.6 -7.8l7.5 -13.1l2.2 -3l10.1 -10l3.2 -2.6l13.3 -6.8l13.3 -2.9l13.3 -0.2l13.3 2l13.3 3.5l13.3 5.4l13.3 6.7l13.3 8.7l13.3 10.4l2 1.9l11.3 11l1.9 2l10.7 13l9.2 13l4.8 8.7l2.6 4.3l6.3 13.1l4.7 13l4.4 13l3.1 13l2.1 13.1l1.2 13l0.4 13l-0.4 13l-1.2 13l-2.1 13.1l-3.1 13l-4.4 13l-4.7 13l-6.3 13.1l-2.6 4.3l-4.8 8.7l-9.2 13l-10.7 13l-1.9 2l-11.3 11l-2 1.9l-13.3 10.4l-1.2 0.8l-12.1 7.9z"/>
<path class="c3" d="M2244.7 740.1l10.1 -9.9l2.2 -3.1l7.5 -13.1l3.6 -7.8l1.9 -5.2l3.9 -13l3 -13l2.4 -13l2.1 -14.7l1.2 -11.4l1.1 -13l0.7 -13l0.6 -13.1l0.3 -13l0.1 -13l-0.1 -13l-0.3 -13l-0.6 -13.1l-0.7 -13l-1.1 -13l-1.4 -13l-1.9 -13.1l-2.4 -13l-3 -13l-3.9 -13l-1.9 -5.2l-3.6 -7.8l-7.5 -13.1l-2.2 -3.1l-10.1 -9.9l-3.2 -2.7l-13.3 -6.7l-13.3 -2.9l-13.3 -0.2l-13.3 2l-13.3 3.4l-13.3 5.5l-13.3 6.7l-13.3 8.7l-13.3 10.4l-2 1.9l-11.3 11l-1.8 2l-10.7 13l-9.3 13l-4.8 8.7l-2.5 4.3l-6.4 13.1l-4.7 13l-4.4 13l-3.1 13l-2.1 13.1l-1.2 13l-0.4 13l0.4 13l1.2 13l2.1 13.1l3.1 13l4.4 13l4.7 13l6.4 13.1l2.5 4.3l4.8 8.7l9.3 13l10.7 13l1.8 2l11.3 11l2 1.9l13.3 10.4l13.3 8.7l13.3 6.7l13.3 5.5l13.3 3.4l13.3 2l13.3 -0.2l13.3 -2.9l13.3 -6.7z"/>
<path class="c8" d="M2441.0 715.9l-13.3 2.9l-13.3 0.2l-13.3 -3l-4.1 -2l-9.2 -5l-8.6 -8l-4.7 -5.2l-5 -7.8l-6.7 -13l-1.6 -3.9l-3.1 -9.1l-3.5 -13.1l-2.7 -13l-2.1 -13l-1.5 -13l-1 -13.1l-0.6 -13l-0.1 -13l0.1 -13l0.6 -13l1 -13.1l1.5 -13l2.1 -13l2.7 -13l3.5 -13.1l3.1 -9l1.7 -4l6.6 -13l5 -7.8l4.7 -5.2l8.6 -8l9.2 -5l4.1 -2l13.3 -2.9l13.3 0.2l13.3 2.8l13.3 5.3l13.3 7.8l13.3 10.6l4.3 4.2l9 9.7l2.7 3.3l9.1 13l1.5 2.5l6.1 10.6l5.8 13l4.9 13l3.7 13l2.3 13.1l1.4 13l0.5 13l-0.5 13l-1.4 13l-2.3 13.1l-3.6 13l-5 13l-5.8 13l-6.1 10.6l-1.5 2.5l-9.1 13l-2.7 3.3l-9 9.7l-4.3 4.2l-13.3 10.6l-13.3 7.8z"/>
<path class="c2" d="M2219.0 714.0l9.2 -5l8.6 -8l4.7 -5.2l5 -7.8l6.7 -13l1.6 -3.9l3.1 -9.1l3.5 -13.1l2.7 -13l2.1 -13l1.5 -13l1 -13.1l0.6 -13l0.1 -13l-0.1 -13l-0.6 -13l-1 -13.1l-1.5 -13l-2.1 -13l-2.7 -13l-3.5 -13.1l-3.1 -9.1l-1.6 -3.9l-6.7 -13l-5 -7.8l-4.7 -5.2l-8.6 -8l-9.2 -5l-4.1 -2l-13.3 -2.9l-13.3 0.2l-13.3 2.8l-13.3 5.3l-13.3 7.8l-13.3 10.6l-4.3 4.2l-9 9.7l-2.7 3.3l-9.1 13l-1.5 2.5l-6.1 10.6l-5.8 13l-4.9 13l-3.6 13l-2.4 13.1l-1.4 13l-0.5 13l0.5 13l1.4 13l2.4 13.1l3.6 13l4.9 13l5.8 13l6.1 10.6l1.5 2.5l9.1 13l2.7 3.3l9 9.7l4.3 4.2l13.3 10.6l13.3 7.8l13.3 5.3l13.3 2.9l13.3 0.1l13.3 -2.9z"/>
<path class="c9" d="M2454.3 679.5l-13.3 5.1l-13.3 1.9l-13.3 -1.9l-13.3 -6.3l-3.9 -3.3l-9.4 -9.7l-2.2 -3.3l-7 -13.1l-4.1 -9.6l-1.1 -3.4l-3.4 -13l-2.5 -13l-1.7 -13.1l-1 -13l-0.3 -13l0.3 -13l1 -13l1.7 -13.1l2.5 -13l3.4 -13l1.1 -3.3l4.1 -9.7l7 -13.1l2.2 -3.2l9.5 -9.8l3.8 -3.3l13.3 -6.3l13.3 -1.9l13.3 1.9l13.3 5.1l7.3 4.5l6 4l9.8 9l3.5 3.7l7.2 9.4l6.1 9.2l2.1 3.8l5.9 13l4.6 13l0.7 2.7l2.3 10.4l1.8 13l0.5 13l-0.5 13l-1.8 13l-2.3 10.4l-0.7 2.7l-4.6 13l-5.9 13l-2.1 3.8l-6.1 9.2l-7.2 9.5l-3.5 3.6l-9.8 9l-6 4z"/>
<path class="c1" d="M2218.8 675.0l9.4 -9.7l2.2 -3.3l7 -13.1l4.1 -9.6l1.1 -3.4l3.4 -13l2.5 -13l1.7 -13.1l1 -13l0.3 -13l-0.3 -13l-1 -13l-1.7 -13.1l-2.5 -13l-3.4 -13l-1.1 -3.4l-4.1 -9.6l-7 -13.1l-2.2 -3.3l-9.4 -9.7l-3.9 -3.3l-13.3 -6.3l-13.3 -1.9l-13.3 1.9l-13.3 5.1l-7.3 4.5l-6 4l-9.8 9l-3.5 3.7l-7.2 9.4l-6.1 9.2l-2.1 3.8l-5.9 13l-4.6 13l-0.7 2.7l-2.3 10.4l-1.7 13l-0.6 13l0.6 13l1.7 13l2.3 10.4l0.7 2.7l4.6 13l5.9 13l2.1 3.8l6.1 9.2l7.2 9.4l3.5 3.7l9.8 9l6 4l7.3 4.5l13.3 5.1l13.3 1.9l13.3 -1.9l13.3 -6.3z"/>
<path class="c10" d="M2427.7 649.2l-13.3 -5.4l-8.4 -7.9l-4.9 -5.9l-3.8 -7.1l-5.1 -13l-3.4 -13.1l-1 -6.3l-0.8 -6.7l-0.5 -13l0.5 -13l0.8 -6.7l1 -6.3l3.4 -13.1l5.1 -13l3.8 -7.1l4.9 -5.9l8.4 -7.9l13.3 -5.3l13.3 0.5l13.3 5.9l8.4 6.8l4.9 4.7l6 8.3l7.5 13l4.1 13.1l2.5 13l0.9 13l-0.9 13l-2.5 13l-4.1 13.1l-7.5 13l-6 8.3l-4.9 4.7l-8.4 6.8l-13.3 5.9z"/>
<path class="c0" d="M2188.9 648.9l12.7 -5.1l8.4 -7.9l4.9 -5.9l3.8 -7.1l5.1 -13l3.4 -13.1l1 -6.2l0.8 -6.8l0.5 -13l-0.5 -13l-0.8 -6.8l-1 -6.2l-3.4 -13.1l-5.1 -13l-3.8 -7.1l-4.9 -5.9l-8.4 -7.9l-12.7 -5.1l-0.6 -0.3l-13.3 0.6l-13.3 5.9l-8.4 6.8l-4.9 4.7l-6 8.3l-7.3 12.7l-4.3 13.4l-2.5 13l-0.9 13l0.9 13l2.5 13l4.2 13.1l7.4 13l6 8.3l4.9 4.7l8.4 6.8l13.3 5.9l13.3 0.5z"/>
</g></g><use href="#m3" class="dt"/></svg>
<rect x="2742.5" y="140.6" width="3.5" height="858.9" fill="#68f098"/>
<text x="2311.7" y="107.1">LP11</text>
<!-- panel 4: LP02 -->
<rect x="37" y="1129.8" width="870" height="3" fill="#98aae8"/>
<rect x="37" y="1132.5" width="873" height="867.2" fill="#000"/>
<rect x="40.2" y="1136.9" width="866.5" height="858.8" fill="#00bfff"/>
<svg class="ct" x="40.2" y="1136.9" width="866.5" height="858.8" viewBox="40.2 1136.9 866.5 858.8" overflow="hidden">
<g class="ln"><g id="m4">
<path class="c2" d="M545.7 1958.6l15.9 -1.4l13.3 -1.3l13.2 -1.6l13.2 -1.9l13.2 -2.1l13.2 -2.5l13.2 -2.9l13.2 -3.1l13.2 -3.6l13.2 -4.2l13.2 -4.7l13.2 -5.3l10.3 -4.7l2.9 -1.4l13.2 -6.9l8.2 -4.8l5 -3.2l14.1 -10l12.4 -9.9l3.5 -3.2l9.7 -9.4l3.5 -3.7l9.7 -11.2l1.4 -1.9l9.7 -13.1l2.1 -3.1l6.3 -10l7.1 -13.1l6.5 -13.1l5.4 -13.1l1.1 -2.7l3.9 -10.4l4.3 -13.1l3.7 -13.1l3.4 -13.1l3 -13.1l2.5 -13.1l2.3 -13.1l1.9 -13.1l1.6 -13.1l1.5 -13.1l1.2 -13.1l1 -13.1l0.8 -13.1l0.7 -13.1l0.4 -13.1l0.3 -13.1l0 -13.1l0 -13.1l-0.3 -13.1l-0.4 -13.1l-0.7 -13.1l-0.8 -13.1l-1 -13.1l-1.2 -13.1l-1.5 -13.1l-1.6 -13.1l-1.9 -13.1l-2.3 -13.1l-2.5 -13.1l-3 -13.1l-3.4 -13.1l-3.7 -13.1l-4.3 -13.1l-4.9 -13.1l-5.5 -13.1l-6.4 -13.1l-7.2 -13.1l-6.3 -10.1l-2 -3l-9.7 -13.1l-1.5 -2l-9.6 -11.1l-3.6 -3.9l-9.5 -9.2l-3.7 -3.4l-12.1 -9.7l-14.4 -10.2l-4.6 -3l-8.6 -5l-13.2 -6.9l-13.2 -6.2l-13.2 -5.3l-13.2 -4.7l-13.2 -4.2l-13.2 -3.6l-13.2 -3.2l-13.2 -2.9l-13.2 -2.5l-13.2 -2.1l-13.2 -1.9l-13.2 -1.6l-13.3 -1.4l-13.2 -1.1l-13.2 -1l-13.2 -0.8l-13.2 -0.6l-13.2 -0.4l-13.2 -0.2l-13.2 -0.1l-13.2 0.1l-13.2 0.2l-13.2 0.4l-13.2 0.6l-13.2 0.8l-13.2 1l-13.2 1.2l-13.3 1.3l-13.2 1.6l-13.2 1.9l-13.2 2.2l-13.2 2.5l-13.2 2.9l-13.2 3.2l-13.2 3.6l-13.2 4.3l-13.2 4.7l-13.2 5.5l-13.2 6.2l-13.2 7.2l-7.3 4.3l-5.9 3.9l-13.3 9.6l-13.2 11.2l-1.6 1.6l-11.6 11.7l-1.2 1.4l-10.8 13.1l-1.2 1.5l-8.2 11.6l-5 8l-2.9 5.1l-7 13.1l-3.3 7l-2.7 6.1l-5.4 13.1l-5.1 14.7l-3.6 11.5l-3.6 13.1l-3.1 13.1l-2.7 13.1l-2.5 13.1l-2.2 13.1l-1.8 13.1l-1.6 13.1l-1.3 13.1l-1.2 13.1l-0.9 13.1l-0.7 13.1l-0.6 13.1l-0.4 13.1l-0.2 13.1l-0.1 13.1l0.1 13.1l0.2 13.1l0.4 13.1l0.6 13.1l0.7 13.1l0.9 13.1l1.2 13.1l1.3 13.1l1.6 13.1l1.8 13.1l2.2 13.1l2.5 13.1l2.7 13.1l3.1 13.1l3.6 13.1l4.2 13.1l4.5 13.1l5.4 13.1l2.7 6.1l3.3 7l7 13.1l2.9 5l5.1 8.1l8.1 11.5l1.3 1.6l10.8 13.1l1.1 1.2l11.8 11.9l1.4 1.4l14 11.7l12.5 9.1l6.3 4.1l6.9 4.1l13.2 7.1l13.2 6.2l13.2 5.5l13.2 4.7l13.2 4.2l13.2 3.7l13.2 3.1l13.2 2.9l13.2 2.5l13.2 2.2l13.2 1.9l13.2 1.6l13.3 1.3l13.2 1.2l13.2 0.9l13.2 0.8l13.2 0.6l13.2 0.4l13.2 0.3l13.2 0.1l13.2 -0.1l13.2 -0.3l13.2 -0.4l13.2 -0.6l13.2 -0.8z"/>
<path class="c1" d="M530.2 1842.6l5.5 -1.1l13.3 -3.2l13.3 -4l13.3 -4.9l13.3 -5.3l13.3 -6.4l13.3 -7.1l13.3 -8.3l13.3 -9.1l4.4 -3.4l8.9 -7.1l7 -6.1l6.3 -5.8l7.5 -7.4l5.8 -6.2l6.2 -7l7.1 -8.7l3.5 -4.5l9.2 -13.2l8.4 -13.2l7.2 -13.2l6.4 -13.2l5.4 -13.1l5 -13.2l4 -13.2l3.3 -13.2l0.8 -4.2l2 -9l2.2 -13.2l1.5 -13.2l0.9 -13.2l0.3 -13.2l-0.3 -13.2l-0.9 -13.2l-1.5 -13.2l-2.2 -13.2l-2 -9l-0.8 -4.2l-3.3 -13.2l-4 -13.2l-5 -13.2l-5.4 -13.1l-6.4 -13.2l-7.2 -13.2l-8.4 -13.2l-9.2 -13.2l-3.5 -4.5l-7.1 -8.7l-6.2 -7l-5.8 -6.2l-7.5 -7.4l-6.3 -5.8l-7 -6.1l-8.9 -7.1l-4.4 -3.4l-13.3 -9.1l-13.3 -8.3l-13.3 -7.1l-13.3 -6.4l-13.3 -5.3l-13.3 -4.9l-13.3 -4l-13.3 -3.2l-5.3 -1.1l-8 -1.7l-13.3 -2.2l-13.3 -1.5l-13.3 -0.9l-13.3 -0.2l-13.3 0.2l-13.3 0.9l-13.3 1.5l-13.3 2.2l-8 1.7l-5.3 1l-13.3 3.3l-13.3 4l-13.3 4.9l-13.3 5.3l-13.3 6.4l-13.3 7.1l-13.3 8.3l-13.3 9.2l-4.3 3.3l-9 7.2l-6.9 6l-6.4 5.9l-7.3 7.3l-6 6.4l-6 6.8l-7.3 9.1l-3.2 4.1l-9.2 13.2l-8.4 13.2l-7 13.2l-6.5 13.2l-5.3 13.1l-5 13.2l-4 13.2l-3.2 13.2l-1.4 6.9l-1.4 6.3l-2.1 13.2l-1.6 13.2l-0.9 13.2l-0.2 13.2l0.2 13.2l0.9 13.2l1.6 13.2l2.1 13.2l1.4 6.3l1.3 6.9l3.3 13.2l4 13.2l5 13.2l5.3 13.1l6.5 13.2l7 13.2l8.4 13.2l9.2 13.2l3.2 4.1l7.3 9.1l6 6.8l6 6.4l7.3 7.3l6.4 5.9l6.9 6l9 7.2l4.3 3.3l13.3 9.2l13.3 8.3l13.3 7l13.3 6.5l13.3 5.3l13.3 4.9l13.3 4l13.3 3.2l5.5 1.1l7.8 1.6l13.3 2.2l13.3 1.5l13.3 0.9l13.3 0.3l13.3 -0.3l13.3 -0.9l13.3 -1.5l13.3 -2.2z"/>
<path class="c0" d="M530.8 1789.8l4.9 -1.2l13.3 -4.2l13.3 -5.2l5.4 -2.6l7.9 -3.5l13.3 -7.3l3.8 -2.4l9.5 -5.9l9.9 -7.3l3.4 -2.5l13.3 -11.4l13.3 -13.3l10.7 -12.4l2.6 -3.3l7.3 -9.9l8.4 -13.2l7.4 -13.1l3.5 -7.7l2.6 -5.5l5.4 -13.2l4.1 -13.2l1.2 -4.7l2.4 -8.5l2.7 -13.2l1.9 -13.2l1.1 -13.2l0.4 -13.2l-0.4 -13.2l-1.1 -13.2l-1.9 -13.2l-2.7 -13.2l-2.4 -8.5l-1.2 -4.7l-4.2 -13.2l-5.3 -13.2l-2.6 -5.5l-3.5 -7.7l-7.4 -13.1l-8.4 -13.2l-9.9 -13.2l-11.5 -13.2l-12.5 -12.5l-13.3 -11.4l-13.3 -9.8l-13.3 -8.3l-13.3 -7.3l-7.9 -3.5l-5.4 -2.6l-13.3 -5.2l-13.3 -4.2l-4.9 -1.2l-8.4 -2.3l-13.3 -2.7l-13.3 -1.9l-13.3 -1.1l-13.3 -0.4l-13.3 0.4l-13.3 1.1l-13.3 1.9l-13.3 2.7l-8.5 2.3l-4.8 1.2l-13.3 4.1l-13.3 5.3l-5.5 2.6l-7.8 3.5l-13.3 7.3l-13.3 8.3l-13.3 9.8l-13.3 11.4l-12.5 12.5l-11.5 13.2l-9.9 13.2l-8.3 13.2l-7.4 13.1l-3.6 8l-2.5 5.2l-5.3 13.2l-4.2 13.2l-1.3 5.3l-2.2 7.9l-2.7 13.2l-1.9 13.2l-1.2 13.2l-0.3 13.2l0.3 13.2l1.2 13.2l1.9 13.2l2.7 13.2l2.2 7.9l1.3 5.3l4.2 13.2l5.3 13.2l2.5 5.2l3.6 8l7.4 13.1l8.3 13.2l9.9 13.2l11.5 13.2l13.4 13.2l12.4 10.7l3.4 2.5l9.9 7.3l13.3 8.3l13.3 7.3l7.8 3.5l5.5 2.6l13.3 5.3l13.3 4.1l4.9 1.2l8.4 2.3l13.3 2.7l13.3 1.9l13.3 1.1l13.3 0.4l13.3 -0.4l13.3 -1.1l13.3 -1.9l13.3 -2.7z"/>
<path class="c1" d="M522.4 1701.5l-13.3 4l-13.3 2.6l-13.3 1.5l-13.3 0.5l-13.3 -0.5l-13.3 -1.5l-13.3 -2.6l-13.3 -4l-9.6 -4.1l-3.7 -1.4l-13.3 -6.5l-13.3 -8.5l-12.4 -9.9l-0.9 -0.8l-12.5 -12.4l-10.8 -13.2l-3.3 -5.4l-5.1 -7.8l-6.2 -13.2l-2 -5.9l-3 -7.3l-3.5 -13.2l-2 -13.2l-0.6 -13.2l0.6 -13.2l2 -13.2l3.5 -13.2l3 -7.3l2 -5.9l6.2 -13.2l5.1 -7.8l3.3 -5.4l10.8 -13.2l12.5 -12.4l0.9 -0.8l12.4 -9.9l13.3 -8.5l13.3 -6.5l3.7 -1.4l9.6 -4.1l13.3 -4l13.3 -2.6l13.3 -1.5l13.3 -0.5l13.3 0.5l13.3 1.5l13.3 2.6l13.3 4l9.7 4.1l3.6 1.3l13.3 6.5l13.3 8.5l13.3 10.7l12.6 12.5l10.7 13.2l3.3 5.3l5.2 7.9l6.2 13.2l1.9 5.8l3 7.4l3.6 13.2l1.9 13.2l0.6 13.2l-0.6 13.2l-1.9 13.2l-3.6 13.2l-3 7.4l-1.9 5.8l-6.2 13.2l-5.2 7.9l-3.3 5.3l-10 12.3l-0.7 0.9l-12.6 12.5l-0.8 0.7l-12.5 10l-13.3 8.5l-13.3 6.5l-3.6 1.3z"/>
<path class="c2" d="M522.4 1684.8l-13.3 4.7l-13.3 3.2l-13.3 1.8l-13.3 0.6l-13.3 -0.6l-13.3 -1.8l-13.3 -3.2l-13.3 -4.8l-13.3 -6l-12.5 -7.6l-0.8 -0.6l-13.3 -10.2l-2.7 -2.4l-10.6 -11.2l-1.8 -2l-9.5 -13.2l-7.4 -13.2l-5.3 -13.2l-2.6 -9.9l-1 -3.3l-2.3 -13.2l-0.8 -13.2l0.8 -13.2l2.3 -13.2l1 -3.3l2.6 -9.9l5.3 -13.2l7.4 -13.2l9.5 -13.2l1.8 -2l10.6 -11.2l2.7 -2.4l13.3 -10.2l13.3 -8.2l13.3 -6l13.3 -4.8l13.3 -3.2l13.3 -1.8l13.3 -0.6l13.3 0.6l13.3 1.8l13.3 3.2l13.3 4.7l13.3 6l13.3 8.2l13.3 10.2l2.8 2.5l10.5 11.1l1.9 2.1l9.5 13.2l7.4 13.2l5.2 13.2l2.6 9.8l1 3.4l2.4 13.2l0.7 13.2l-0.7 13.2l-2.4 13.2l-1 3.4l-2.6 9.8l-5.2 13.2l-7.4 13.2l-9.5 13.2l-1.9 2.1l-10.5 11.1l-2.8 2.5l-13.3 10.2l-0.7 0.5l-12.6 7.7z"/>
<path class="c3" d="M509.1 1676.4l-13.3 3.6l-13.3 2l-13.3 0.7l-13.3 -0.7l-13.3 -2l-13.3 -3.6l-13.3 -5.5l-13.3 -7l-8.8 -6l-4.5 -3.5l-10.6 -9.7l-2.7 -3l-8.3 -10.2l-5 -7.8l-3.3 -5.4l-5.9 -13.2l-4.1 -13.2l-2.5 -13.2l-0.8 -13.2l0.8 -13.2l2.5 -13.2l4.1 -13.2l5.9 -13.2l3.3 -5.4l5 -7.8l8.3 -10.2l2.7 -3l10.6 -9.7l4.5 -3.5l8.8 -6l13.3 -7l13.3 -5.5l13.3 -3.6l13.3 -2l13.3 -0.7l13.3 0.7l13.3 2l13.3 3.6l13.3 5.4l13.3 7l8.9 6.1l4.4 3.5l10.6 9.7l2.7 3l8.4 10.2l4.9 7.7l3.3 5.5l6 13.2l4 13.2l2.5 13.2l0.8 13.2l-0.8 13.2l-2.5 13.2l-4 13.2l-6 13.2l-3.3 5.5l-4.9 7.7l-8.4 10.2l-2.7 3l-10.6 9.7l-4.4 3.5l-8.9 6.1l-13.3 7z"/>
<path class="c4" d="M482.5 1671.2l-13.3 0.8l-13.3 -0.8l-13.3 -2.4l-13.3 -4.1l-13.3 -6.1l-1.2 -0.7l-12.1 -7.8l-6.8 -5.4l-6.5 -6.2l-6.4 -7l-6.9 -9.6l-2.4 -3.6l-6.7 -13.2l-4.4 -13.2l-2.7 -13.2l-0.9 -13.2l0.9 -13.2l2.7 -13.2l4.4 -13.2l6.7 -13.2l2.4 -3.6l6.9 -9.6l6.4 -7l6.5 -6.2l6.8 -5.4l12.1 -7.8l1.2 -0.7l13.3 -6.1l13.3 -4.1l13.3 -2.4l13.3 -0.8l13.3 0.8l13.3 2.4l13.3 4.1l13.3 6.1l1.3 0.7l12 7.7l6.9 5.5l6.4 6.2l6.5 7l6.8 9.5l2.5 3.7l6.6 13.2l4.5 13.2l2.6 13.2l0.9 13.2l-0.9 13.2l-2.6 13.2l-4.5 13.2l-6.6 13.2l-2.5 3.7l-6.8 9.5l-6.5 7l-6.4 6.2l-6.9 5.5l-12 7.7l-1.3 0.7l-13.3 6.1l-13.3 4.1z"/>
<path class="c5" d="M495.8 1658.2l-13.3 2.7l-13.3 0.9l-13.3 -0.9l-13.3 -2.7l-13.3 -4.8l-13.3 -7.1l-2.4 -1.6l-10.9 -8.7l-4.7 -4.5l-8.6 -10.4l-2.1 -2.8l-7.4 -13.2l-4.9 -13.2l-2.9 -13.2l-1 -13.2l1 -13.2l2.9 -13.2l4.9 -13.2l7.4 -13.2l2.1 -2.8l8.6 -10.4l4.7 -4.5l10.9 -8.7l2.4 -1.6l13.3 -7.1l13.3 -4.8l13.3 -2.7l13.3 -0.9l13.3 0.9l13.3 2.7l13.3 4.8l13.3 7.1l2.5 1.6l10.8 8.6l4.8 4.6l8.5 10.3l2.2 2.9l7.4 13.2l4.9 13.2l2.9 13.2l0.9 13.2l-0.9 13.2l-2.9 13.2l-4.9 13.2l-7.4 13.2l-2.2 2.9l-8.5 10.3l-4.8 4.6l-10.8 8.6l-2.5 1.6l-13.3 7.1z"/>
<path class="c6" d="M495.8 1647.3l-13.3 3.1l-13.3 1l-13.3 -1l-13.3 -3.2l-6.6 -2.5l-6.7 -3l-13.3 -8.4l-2.2 -1.8l-11.1 -11l-1.9 -2.2l-8.5 -13.2l-2.9 -6.6l-2.7 -6.6l-3.2 -13.2l-1 -13.2l1 -13.2l3.2 -13.2l2.7 -6.6l2.9 -6.6l8.5 -13.2l1.9 -2.2l11.1 -11l2.2 -1.8l13.3 -8.4l6.7 -3l6.6 -2.5l13.3 -3.2l13.3 -1l13.3 1l13.3 3.1l6.7 2.6l6.6 2.9l13.3 8.5l2.3 1.8l11 10.9l1.9 2.3l8.5 13.2l2.9 6.5l2.8 6.7l3.2 13.2l1 13.2l-1 13.2l-3.2 13.2l-2.8 6.7l-2.9 6.5l-8.5 13.2l-1.9 2.3l-11 10.9l-2.3 1.8l-13.3 8.5l-6.6 2.9z"/>
<path class="c7" d="M495.8 1635.8l-13.3 3.6l-13.3 1.1l-13.3 -1.1l-13.3 -3.7l-9.2 -4.2l-4.1 -2.3l-13.3 -10.3l-0.6 -0.6l-10.4 -13.2l-2.3 -4.1l-4.3 -9.1l-3.6 -13.2l-1.2 -13.2l1.2 -13.2l3.6 -13.2l4.3 -9.1l2.3 -4.1l10.4 -13.2l0.6 -0.6l13.3 -10.3l4.1 -2.3l9.2 -4.2l13.3 -3.7l13.3 -1.1l13.3 1.1l13.3 3.6l9.2 4.3l4.1 2.2l13.3 10.3l0.7 0.7l10.4 13.2l2.2 4l4.3 9.2l3.7 13.2l1.2 13.2l-1.2 13.2l-3.7 13.2l-4.3 9.2l-2.2 4l-10.4 13.2l-0.7 0.7l-13.3 10.3l-4.1 2.2z"/>
<path class="c8" d="M495.8 1623.3l-13.3 4.4l-13.3 1.4l-13.3 -1.4l-13.3 -4.4l-8.9 -5l-4.4 -3.1l-10.2 -10.1l-3.1 -4.4l-5 -8.8l-4.4 -13.2l-1.5 -13.2l1.5 -13.2l4.4 -13.2l5 -8.8l3.1 -4.4l10.2 -10.1l4.4 -3.1l8.9 -5l13.3 -4.4l13.3 -1.4l13.3 1.4l13.3 4.4l8.9 5l4.4 3.1l10.2 10.1l3.1 4.3l5.1 8.9l4.4 13.2l1.4 13.2l-1.4 13.2l-4.4 13.2l-5.1 8.9l-3.1 4.3l-10.2 10.1l-4.4 3.1z"/>
<path class="c9" d="M495.8 1608.9l-13.3 5.6l-13.3 1.9l-13.3 -1.9l-13.3 -5.7l-5.3 -3.7l-8 -8l-3.8 -5.2l-5.7 -13.2l-1.9 -13.2l1.9 -13.2l5.7 -13.2l3.8 -5.2l8 -8l5.3 -3.7l13.3 -5.7l13.3 -1.9l13.3 1.9l13.3 5.6l5.3 3.8l8 7.9l3.8 5.3l5.7 13.2l1.9 13.2l-1.9 13.2l-5.7 13.2l-3.8 5.3l-8 7.9z"/>
<path class="c10" d="M482.5 1597.8l-13.3 2.7l-13.3 -2.7l-9.8 -5.9l-3.5 -3.4l-6 -9.8l-2.6 -13.2l2.6 -13.2l6 -9.8l3.5 -3.4l9.8 -5.9l13.3 -2.7l13.3 2.7l9.9 5.9l3.4 3.4l6 9.8l2.7 13.2l-2.7 13.2l-6 9.8l-3.4 3.4z"/>
</g></g><use href="#m4" class="dt"/></svg>
<rect x="906.7" y="1132.5" width="3.3" height="867.2" fill="#001850"/>
<text x="472.2" y="1103.2">LP02</text>
<!-- panel 5: LP21 -->
<rect x="956" y="1129.5" width="870" height="3" fill="#88c4dc"/>
<rect x="952" y="1132.5" width="4" height="864.2" fill="#88c4dc"/>
<rect x="956" y="1132.5" width="874" height="867.2" fill="#000"/>
<rect x="960" y="1136.7" width="866" height="859" fill="#8fff70"/>
<svg class="ct" x="960" y="1136.7" width="866" height="859" viewBox="960 1136.7 866 859" overflow="hidden">
<g class="ln"><g id="m5">
<path class="c4" d="M1601.9 1552.4l12.9 -4.1l13.3 -5.3l8.1 -3.8l5.2 -3.3l14.1 -9.8l13.2 -13.2l9.5 -13.2l3.1 -6.6l3.6 -6.6l4.6 -13.2l2.7 -13.1l1.3 -13.2l0.2 -13.2l-1 -13.2l-2.2 -13.2l-3.3 -13.1l-4.7 -13.2l-5.6 -13.2l-7.2 -13.2l-8.5 -13.2l-6.5 -8.4l-3.8 -4.7l-9.5 -10.3l-2.9 -2.9l-10.4 -9.4l-4.8 -3.8l-8.5 -6.4l-13.3 -8.3l-13.3 -7.2l-13.3 -5.5l-13.3 -4.6l-13.3 -3.4l-13.3 -2.1l-13.3 -1l-13.3 0.1l-13.3 1.3l-13.3 2.7l-13.3 4.6l-6.5 3.4l-6.8 3.2l-13.3 9.4l-13.3 13.1l-9.9 13.9l-3.4 5.2l-3.7 8l-5.5 13.1l-4.1 12.9l-2.6 13.5l-1.6 13.2l-1.1 13.2l-0.7 13.1l-0.4 13.2l-0.3 13.2l0 13.2l0.1 13.2l0.3 13.1l0.6 13.2l1 13.2l1.6 13.2l2.9 13.2l0.2 0.5l6 12.6l7.3 7.2l12.7 6l0.6 0.2l13.3 2.9l13.3 1.6l13.3 1l13.3 0.6l13.3 0.3l13.3 0.1l13.3 0l13.3 -0.3l13.3 -0.4l13.3 -0.7l13.3 -1.1l13.3 -1.6z"/>
<path class="c6" d="M1574.9 1856.5l-13.3 4.7l-13.3 3.3l-13.3 2.1l-13.3 1l-13.3 -0.1l-13.3 -1.3l-13.3 -2.7l-13.3 -4.6l-6.4 -3.3l-6.9 -3.2l-13.3 -9.4l-13.3 -13.1l-9.9 -13.9l-3.4 -5.1l-3.7 -8.1l-5.5 -13.1l-4.1 -12.9l-2.6 -13.5l-1.6 -13.2l-1.1 -13.2l-0.7 -13.1l-0.4 -13.2l-0.3 -13.2l0 -13.2l0.1 -13.2l0.3 -13.1l0.6 -13.2l1 -13.2l1.6 -13.2l2.9 -13.2l0.2 -0.5l6.1 -12.6l7.2 -7.2l12.7 -6l0.6 -0.2l13.3 -2.9l13.3 -1.6l13.3 -1l13.3 -0.6l13.3 -0.3l13.3 -0.1l13.3 0.1l13.3 0.2l13.3 0.4l13.3 0.7l13.3 1.1l13.3 1.6l13.7 2.6l12.9 4.1l13.3 5.4l8.1 3.7l5.2 3.3l14 9.8l13.2 13.2l9.6 13.2l3.1 6.6l3.5 6.6l4.7 13.2l2.7 13.1l1.3 13.2l0.2 13.2l-1 13.2l-2.2 13.2l-3.3 13.1l-4.7 13.2l-5.6 13.2l-7.2 13.2l-8.5 13.2l-6.5 8.4l-3.8 4.7l-9.5 10.3l-3 2.9l-10.3 9.3l-4.9 3.9l-8.4 6.3l-13.3 8.4l-13.3 7.1z"/>
<path class="c6" d="M1348.8 1552.6l-13.3 2.9l-13.3 1.6l-13.3 1l-13.3 0.6l-13.3 0.3l-13.3 0.1l-13.3 0l-13.3 -0.3l-13.3 -0.4l-13.3 -0.7l-13.3 -1.1l-13.3 -1.6l-13.7 -2.6l-12.9 -4.1l-13.3 -5.4l-8.1 -3.7l-5.2 -3.4l-14 -9.7l-13.1 -13.2l-9.5 -13.2l-3.3 -7l-3.3 -6.2l-4.6 -13.2l-2.7 -13.1l-1.3 -13.2l-0.1 -13.2l1.1 -13.2l2.1 -13.2l3.4 -13.1l4.7 -13.2l5.6 -13.2l7.2 -13.2l8.4 -13.2l6.1 -8l4.2 -5.1l9.1 -10l3.3 -3.2l10 -9.2l5.1 -4l8.2 -6.2l13.3 -8.4l13.3 -7.2l13.3 -5.5l13.3 -4.7l13.3 -3.3l13.3 -2.1l13.3 -1l13.3 0.1l13.3 1.2l13.3 2.8l13.3 4.5l6.5 3.4l6.8 3.2l13.3 9.4l13.3 13.1l9.9 13.9l3.4 5.1l3.7 8.1l5.5 13.1l4.2 13.2l2.5 13.2l1.6 13.2l1.1 13.2l0.7 13.1l0.5 13.2l0.2 13.2l0.1 13.2l-0.2 13.2l-0.3 13.1l-0.6 13.2l-1 13.2l-1.6 13.2l-2.9 13.2l-0.2 0.6l-6 12.5l-7.3 7.2l-12.7 6z"/>
<path class="c4" d="M1315.3 1855.6l6.9 -3.2l13.3 -9.4l13.3 -13.1l9.9 -13.9l3.4 -5.1l3.7 -8.1l5.5 -13.1l4.2 -13.2l2.5 -13.2l1.6 -13.2l1.1 -13.2l0.7 -13.1l0.5 -13.2l0.2 -13.2l0.1 -13.2l-0.2 -13.2l-0.3 -13.1l-0.6 -13.2l-1 -13.2l-1.6 -13.2l-2.9 -13.2l-0.2 -0.6l-6 -12.5l-7.3 -7.2l-12.7 -6l-0.6 -0.2l-13.3 -2.9l-13.3 -1.6l-13.3 -1l-13.3 -0.6l-13.3 -0.3l-13.3 -0.1l-13.3 0.1l-13.3 0.2l-13.3 0.4l-13.3 0.8l-13.3 1l-13.3 1.6l-13.6 2.6l-13 4.1l-13.3 5.4l-8 3.7l-5.3 3.4l-13.9 9.7l-13.2 13.2l-9.5 13.2l-3.3 7.1l-3.3 6.1l-4.6 13.2l-2.7 13.1l-1.3 13.2l0 13.2l1 13.2l2.1 13.2l3.4 13.1l4.7 13.2l5.6 13.2l7.2 13.2l8.4 13.2l6.1 8l4.2 5.1l9.1 10l3.3 3.2l10 9.1l5.2 4.1l8.1 6.2l13.3 8.3l13.3 7.2l13.3 5.5l13.3 4.7l13.3 3.4l13.3 2.1l13.3 1l13.3 -0.1l13.3 -1.3l13.3 -2.7l13.3 -4.6z"/>
<path class="c3" d="M1570.1 1539.2l4.8 -1.4l13.3 -5.7l9.4 -6l3.9 -4l8.1 -9.2l5.2 -10.1l1.9 -3.1l5 -13.2l2.6 -13.2l0.9 -13.1l-0.8 -13.2l-2.3 -13.2l-4 -13.2l-5.6 -13.2l-7.4 -13.1l-3.6 -5.2l-5.9 -8l-7.4 -8.3l-5 -4.9l-8.3 -7.3l-8.1 -5.9l-5.2 -3.6l-13.3 -7.3l-13.3 -5.6l-13.3 -3.9l-13.3 -2.3l-13.3 -0.7l-13.3 0.8l-13.3 2.6l-13.3 5l-3.1 1.8l-10.2 5.2l-9.3 8l-4 3.9l-6.1 9.3l-5.7 13.2l-1.5 4.8l-2.1 8.4l-2.2 13.1l-1.4 13.2l-0.8 13.2l-0.2 13.2l0.4 13.2l1 13.1l1.8 13.2l3 13.2l0.5 1.4l4.9 11.8l8.4 11.8l1.4 1.4l11.9 8.3l11.9 4.8l1.4 0.5l13.3 3l13.3 1.8l13.3 1l13.3 0.4l13.3 -0.2l13.3 -0.8l13.3 -1.4l13.3 -2.2z"/>
<path class="c7" d="M1535.0 1793.0l-13.3 3.9l-13.3 2.3l-13.3 0.7l-13.3 -0.8l-13.3 -2.6l-13.3 -4.9l-3.1 -1.9l-10.2 -5.2l-9.3 -8l-4 -3.9l-6.1 -9.3l-5.7 -13.2l-1.5 -4.7l-2.1 -8.5l-2.2 -13.1l-1.4 -13.2l-0.8 -13.2l-0.2 -13.2l0.4 -13.2l1 -13.1l1.8 -13.2l3 -13.2l0.5 -1.4l4.9 -11.8l8.4 -11.8l1.4 -1.4l11.9 -8.3l11.9 -4.8l1.4 -0.5l13.3 -3l13.3 -1.8l13.3 -1l13.3 -0.4l13.3 0.2l13.3 0.8l13.3 1.4l13.3 2.2l8.5 2.1l4.8 1.4l13.3 5.7l9.4 6l3.9 4l8.1 9.2l5.2 10.1l1.9 3.1l5 13.2l2.6 13.2l0.9 13.1l-0.8 13.2l-2.3 13.2l-4 13.2l-5.6 13.2l-7.4 13.1l-3.6 5.2l-5.9 8l-7.4 8.3l-5 4.9l-8.3 7.3l-8.1 5.9l-5.2 3.6l-13.3 7.3z"/>
<path class="c7" d="M1322.2 1539.7l-13.3 3l-13.3 1.8l-13.3 1l-13.3 0.4l-13.3 -0.2l-13.3 -0.8l-13.3 -1.4l-13.3 -2.2l-8.5 -2.1l-4.8 -1.4l-13.3 -5.7l-9.4 -6l-3.9 -4l-8 -9.2l-5.3 -10.1l-1.9 -3.1l-5 -13.2l-2.6 -13.2l-0.8 -13.1l0.7 -13.2l2.3 -13.2l4 -13.2l5.6 -13.2l7.4 -13.1l3.6 -5.1l6 -8.1l7.3 -8.2l5.1 -5l8.2 -7.3l8.1 -5.9l5.2 -3.5l13.3 -7.4l13.3 -5.5l13.3 -4l13.3 -2.3l13.3 -0.7l13.3 0.8l13.3 2.6l13.3 4.9l3.1 1.9l10.2 5.2l9.3 8l4 3.9l6.1 9.3l5.7 13.2l1.5 4.7l2.1 8.5l2.2 13.1l1.4 13.2l0.8 13.2l0.2 13.2l-0.3 13.2l-1.1 13.1l-1.8 13.2l-3 13.2l-0.5 1.4l-4.9 11.8l-8.4 11.8l-1.4 1.4l-11.9 8.3l-11.9 4.8z"/>
<path class="c3" d="M1325.4 1789.7l10.1 -5.2l9.3 -8l4 -3.9l6.1 -9.3l5.7 -13.2l1.5 -4.7l2.1 -8.5l2.2 -13.1l1.5 -13.2l0.7 -13.2l0.2 -13.2l-0.3 -13.2l-1.1 -13.1l-1.8 -13.2l-3 -13.2l-0.5 -1.4l-4.9 -11.8l-8.4 -11.8l-1.4 -1.4l-11.9 -8.3l-11.9 -4.8l-1.4 -0.5l-13.3 -3l-13.3 -1.8l-13.3 -1l-13.3 -0.4l-13.3 0.2l-13.3 0.8l-13.3 1.4l-13.3 2.2l-8.5 2.1l-4.8 1.4l-13.3 5.7l-9.3 6l-4 4l-8 9.2l-5.3 10.1l-1.9 3.1l-5 13.2l-2.6 13.2l-0.8 13.1l0.7 13.2l2.3 13.2l4 13.2l5.6 13.2l7.4 13.1l3.6 5.1l6 8.1l7.3 8.2l5.1 5l8.2 7.3l8.1 5.9l5.2 3.5l13.3 7.4l13.3 5.5l13.3 4l13.3 2.3l13.3 0.7l13.3 -0.8l13.3 -2.6l13.3 -4.9z"/>
<path class="c8" d="M1508.4 1767.1l-13.3 2.4l-13.3 0.5l-13.3 -1.6l-13.3 -4.6l-0.7 -0.5l-12.6 -9.9l-2.5 -3.3l-7.6 -13.2l-3.2 -8.4l-1.4 -4.7l-2.7 -13.2l-1.4 -13.2l-0.4 -13.2l0.6 -13.2l1.8 -13.1l3.3 -13.2l0.2 -0.6l5.8 -12.6l7.5 -10.3l2.9 -2.9l10.4 -7.4l12.7 -5.8l0.6 -0.2l13.3 -3.2l13.3 -1.8l13.3 -0.6l13.3 0.4l13.3 1.4l13.3 2.6l4.8 1.4l8.5 3.2l13.3 7.5l3.3 2.5l10 12.5l0.5 0.7l4.7 13.2l1.6 13.2l-0.5 13.1l-2.4 13.2l-4.4 13.2l-6 13.2l-6.8 10.5l-1.8 2.7l-11.5 13.1l-13.3 11.4l-2.7 1.8l-10.6 6.8l-13.3 5.9z"/>
<path class="c2" d="M1553.2 1526.1l8.4 -3.2l13.3 -7.5l3.3 -2.5l10 -12.5l0.5 -0.7l4.7 -13.2l1.6 -13.2l-0.5 -13.1l-2.4 -13.2l-4.4 -13.2l-6 -13.2l-6.8 -10.5l-1.8 -2.7l-11.6 -13.1l-13.2 -11.4l-2.7 -1.8l-10.6 -6.8l-13.3 -5.9l-13.3 -4.3l-13.3 -2.4l-13.3 -0.5l-13.3 1.6l-13.3 4.6l-0.7 0.5l-12.6 9.9l-2.5 3.3l-7.6 13.2l-3.2 8.4l-1.4 4.7l-2.7 13.2l-1.4 13.2l-0.4 13.2l0.6 13.2l1.8 13.1l3.3 13.2l0.2 0.6l5.8 12.6l7.5 10.3l2.9 2.9l10.4 7.4l12.7 5.8l0.6 0.2l13.3 3.2l13.3 1.8l13.3 0.6l13.3 -0.4l13.3 -1.4l13.3 -2.6z"/>
<path class="c2" d="M1322.9 1763.3l12.6 -9.9l2.5 -3.3l7.6 -13.2l3.2 -8.3l1.4 -4.8l2.7 -13.2l1.4 -13.2l0.4 -13.2l-0.6 -13.2l-1.8 -13.1l-3.3 -13.2l-0.2 -0.7l-5.8 -12.5l-7.5 -10.3l-2.9 -2.9l-10.4 -7.4l-12.7 -5.8l-0.6 -0.2l-13.3 -3.2l-13.3 -1.8l-13.3 -0.6l-13.3 0.4l-13.3 1.4l-13.3 2.6l-4.8 1.4l-8.5 3.2l-13.3 7.5l-3.3 2.5l-10 12.5l-0.4 0.7l-4.7 13.2l-1.7 13.2l0.5 13.1l2.5 13.2l4.3 13.2l6 13.2l6.8 10.5l1.9 2.7l11.5 13.1l13.2 11.4l2.7 1.8l10.6 6.8l13.3 5.9l13.3 4.3l13.3 2.4l13.3 0.5l13.3 -1.6l13.3 -4.6z"/>
<path class="c8" d="M1308.9 1526.3l-13.3 3.2l-13.3 1.8l-13.3 0.6l-13.3 -0.4l-13.3 -1.4l-13.3 -2.6l-4.8 -1.4l-8.5 -3.2l-13.3 -7.5l-3.3 -2.5l-10 -12.5l-0.5 -0.7l-4.7 -13.2l-1.6 -13.2l0.5 -13.1l2.4 -13.2l4.4 -13.2l6 -13.2l6.8 -10.5l1.9 -2.7l11.5 -13.1l13.2 -11.4l2.7 -1.8l10.6 -6.8l13.3 -5.9l13.3 -4.3l13.3 -2.4l13.3 -0.5l13.3 1.6l13.3 4.6l0.7 0.5l12.6 9.9l2.5 3.3l7.6 13.2l3.2 8.3l1.4 4.8l2.7 13.2l1.4 13.2l0.4 13.2l-0.6 13.2l-1.8 13.1l-3.3 13.2l-0.2 0.7l-5.8 12.5l-7.5 10.3l-2.9 2.9l-10.4 7.4l-12.7 5.8z"/>
<path class="c9" d="M1521.7 1739.9l-13.3 5.5l-13.3 3.2l-13.3 0.3l-13.3 -3.6l-12.4 -8.4l-0.9 -0.8l-8.3 -12.3l-5 -12.1l-0.3 -1.1l-2.5 -13.2l-0.7 -13.2l0.9 -13.2l2.8 -13.1l5.9 -13.2l7.2 -10l3.3 -3.2l10 -7.1l13.3 -5.9l13.3 -2.7l13.3 -0.9l13.3 0.7l13.3 2.4l1.1 0.3l12.2 5l12.5 8.2l0.8 0.9l8.4 12.3l3.6 13.2l-0.3 13.1l-3.2 13.2l-5.5 13.2l-3 4.8l-5.5 8.4l-7.8 9.1l-4.1 4.1l-9.2 7.7l-8.4 5.4z"/>
<path class="c1" d="M1321.3 1736.9l0.9 -0.8l8.3 -12.3l5 -12.1l0.4 -1.1l2.4 -13.2l0.7 -13.2l-0.9 -13.2l-2.8 -13.1l-5.9 -13.2l-7.2 -10l-3.2 -3.2l-10.1 -7.1l-13.3 -5.9l-13.3 -2.7l-13.3 -0.9l-13.3 0.7l-13.3 2.4l-1.1 0.3l-12.2 5l-12.5 8.2l-0.8 0.9l-8.4 12.3l-3.6 13.2l0.3 13.1l3.2 13.2l5.5 13.2l3 4.8l5.5 8.4l7.8 9l4.2 4.2l9.1 7.7l8.4 5.4l4.9 3l13.3 5.5l13.3 3.2l13.3 0.3l13.3 -3.6z"/>
<path class="c1" d="M1536.1 1512.9l12.2 -5l12.5 -8.2l0.8 -0.9l8.4 -12.3l3.6 -13.2l-0.3 -13.1l-3.2 -13.2l-5.5 -13.2l-3 -4.8l-5.5 -8.4l-7.8 -9l-4.2 -4.2l-9.1 -7.7l-8.4 -5.4l-4.9 -3l-13.3 -5.5l-13.3 -3.2l-13.3 -0.3l-13.3 3.6l-12.4 8.4l-0.9 0.8l-8.3 12.3l-5 12.1l-0.3 1.1l-2.5 13.2l-0.7 13.2l0.9 13.2l2.8 13.1l5.9 13.2l7.2 10l3.2 3.2l10.1 7.1l13.3 5.9l13.3 2.7l13.3 0.9l13.3 -0.7l13.3 -2.4z"/>
<path class="c9" d="M1282.3 1515.4l-13.3 0.9l-13.3 -0.7l-13.3 -2.4l-1.1 -0.3l-12.2 -5l-12.5 -8.2l-0.8 -0.9l-8.4 -12.3l-3.6 -13.2l0.3 -13.1l3.2 -13.2l5.5 -13.2l3 -4.8l5.5 -8.4l7.8 -9l4.2 -4.2l9.1 -7.7l8.4 -5.4l4.9 -3l13.3 -5.5l13.3 -3.2l13.3 -0.3l13.3 3.6l12.4 8.4l0.9 0.8l8.3 12.3l5 12.1l0.3 1.1l2.5 13.2l0.7 13.2l-0.9 13.2l-2.8 13.1l-5.9 13.2l-7.2 10l-3.2 3.2l-10.1 7.1l-13.3 5.9z"/>
<path class="c10" d="M1508.4 1724.1l-13.3 2.2l-13.3 -1.8l-1.4 -0.7l-11.9 -8.8l-3.2 -4.4l-5.5 -13.2l-1.8 -13.2l1.5 -13.2l5 -13.1l4 -5.9l7.4 -7.3l5.9 -4l13.3 -4.9l13.3 -1.5l13.3 1.8l13.3 5.4l4.4 3.2l8.9 11.8l0.7 1.4l1.9 13.1l-2.3 13.2l-0.3 0.7l-6.5 12.5l-6.8 8.7l-4.6 4.5l-8.7 6.7z"/>
<path class="c0" d="M1539.4 1486.5l8.9 -11.7l0.7 -1.5l1.9 -13.1l-2.3 -13.2l-0.3 -0.7l-6.5 -12.5l-6.8 -8.7l-4.6 -4.5l-8.7 -6.7l-12.6 -6.5l-0.7 -0.3l-13.3 -2.2l-13.3 1.8l-1.4 0.7l-11.9 8.8l-3.2 4.4l-5.5 13.2l-1.8 13.2l1.5 13.2l5 13.1l4 5.9l7.4 7.3l5.9 4l13.3 4.9l13.3 1.5l13.3 -1.8l13.3 -5.4z"/>
<path class="c0" d="M1297.0 1723.8l11.9 -8.8l3.2 -4.4l5.5 -13.2l1.8 -13.2l-1.5 -13.2l-5 -13.1l-4 -5.9l-7.4 -7.3l-5.9 -4l-13.3 -4.9l-13.3 -1.5l-13.3 1.8l-13.3 5.4l-4.4 3.2l-8.9 11.8l-0.7 1.4l-1.9 13.1l2.3 13.2l6.9 13.2l6.7 8.7l4.6 4.5l8.7 6.7l13.3 6.8l13.3 2.2l13.3 -1.8z"/>
<path class="c10" d="M1295.6 1490.5l-13.3 4.9l-13.3 1.5l-13.3 -1.8l-13.3 -5.4l-4.4 -3.2l-8.9 -11.8l-0.7 -1.4l-1.9 -13.1l2.3 -13.2l6.9 -13.2l6.7 -8.6l4.6 -4.6l8.7 -6.7l13.3 -6.8l13.3 -2.2l13.3 1.8l1.4 0.7l11.9 8.8l3.2 4.4l5.5 13.2l1.8 13.2l-1.5 13.2l-5 13.1l-4 5.9l-7.4 7.3z"/>
</g></g><use href="#m5" class="dt"/></svg>
<text x="1391.7" y="1103.2">LP21</text>
<!-- panel 6: LP21 -->
<rect x="1876" y="1129.5" width="870" height="3" fill="#88c4dc"/>
<rect x="1872" y="1132.5" width="4" height="864.2" fill="#58c8c0"/>
<rect x="1876" y="1132.5" width="874" height="867.2" fill="#000"/>
<rect x="1880" y="1136.7" width="866" height="859" fill="#8fff70"/>
<svg class="ct" x="1880" y="1136.7" width="866" height="859" viewBox="1880 1136.7 866 859" overflow="hidden">
<g class="ln"><g id="m6">
<path class="c4" d="M2331.0 1526.8l3.1 -1.5l13.3 -10l1.7 -1.7l11.6 -9.8l3.4 -3.4l9.9 -8.9l17.8 -17.5l8.8 -8.9l4.2 -4.2l9.1 -9.8l3.5 -3.4l9.8 -11.3l2 -1.9l10.7 -13.2l0.6 -1l9 -12.2l4.3 -8.9l2.9 -4.2l5.7 -13.2l3.9 -13.2l0.8 -5l1.9 -8.2l1 -13.2l-0.7 -13.1l-2.6 -13.2l-4.3 -13.2l-6.6 -13.2l-2 -3.1l-7 -10.1l-6.3 -7.3l-5.8 -5.9l-7.5 -6.7l-8.8 -6.4l-4.5 -3.2l-13.3 -7.7l-13.3 -6.2l-13.3 -4.9l-13.3 -3.7l-3.5 -0.7l-9.8 -2.2l-13.3 -2.1l-13.3 -1.2l-13.3 -0.4l-13.3 0.4l-13.3 1.2l-13.3 2.1l-9.8 2.2l-3.5 0.7l-13.3 3.7l-13.3 4.9l-13.3 6.2l-13.3 7.7l-4.5 3.2l-8.8 6.4l-7.5 6.7l-5.8 5.9l-6.3 7.3l-7 10.1l-2 3.1l-6.6 13.2l-4.3 13.2l-2.6 13.2l-0.7 13.1l1 13.2l1.9 8.1l0.8 5.1l3.9 13.2l5.8 13.2l2.8 4.2l4.3 8.9l9 12.2l0.6 1l10.8 13.2l1.9 1.9l9.9 11.3l3.4 3.4l9.1 9.8l17.5 17.6l9.1 8.7l4.2 4.2l9.9 9l3.4 3.4l11.7 9.8l1.6 1.6l13.3 10.1l3.1 1.5l10.2 6.3l13.3 2.8l13.3 -2.8z"/>
<path class="c4" d="M2355.9 1909.0l4.8 -1l13.3 -3.6l13.3 -4.9l13.3 -6.2l13.3 -7.7l4.2 -3l9.1 -6.6l7.3 -6.5l6 -6.1l6.2 -7.1l7.1 -10.2l1.9 -3l6.6 -13.2l4.3 -13.2l2.6 -13.2l0.8 -13.1l-1 -13.2l-1.9 -8.1l-0.8 -5.1l-3.9 -13.2l-5.8 -13.2l-2.8 -4.2l-4.3 -8.9l-9 -12.2l-0.6 -1l-10.7 -13.2l-2 -1.9l-9.8 -11.3l-3.5 -3.4l-9.1 -9.8l-17.5 -17.6l-9 -8.7l-4.3 -4.2l-9.9 -9l-3.4 -3.4l-11.6 -9.8l-1.7 -1.7l-13.3 -10l-3.1 -1.5l-10.2 -6.3l-13.3 -2.8l-13.3 2.8l-10.1 6.3l-3.2 1.5l-13.3 10.1l-1.6 1.6l-11.7 9.8l-3.4 3.4l-9.9 9l-17.8 17.4l-8.8 9l-4.2 4.1l-9.1 9.8l-3.4 3.4l-9.9 11.3l-1.9 1.9l-10.8 13.2l-0.6 1l-9 12.2l-4.3 9l-2.8 4.1l-5.8 13.2l-3.9 13.2l-0.8 5.1l-1.9 8.1l-1 13.2l0.7 13.1l2.7 13.2l4.2 13.2l6.7 13.2l1.9 3l7.1 10.2l6.2 7.2l6 6l7.3 6.5l9 6.6l4.3 3l13.3 7.7l13.3 6.2l13.3 4.9l13.3 3.6l4.8 1l8.5 1.9l13.3 2.1l13.3 1.2l13.3 0.4l13.3 -0.4l13.3 -1.2l13.3 -2.1z"/>
<path class="c6" d="M2573.5 1714.8l-13.3 5l-13.3 2.9l-13.3 1.2l-13.3 -0.5l-13.3 -2l-13.3 -3.6l-13.3 -5.5l-1.5 -1l-11.8 -5.6l-10.5 -7.6l-2.8 -1.6l-13.3 -10.7l-0.9 -0.9l-12.4 -10.7l-2.5 -2.5l-10.8 -9.8l-3.4 -3.3l-9.9 -9.6l-16.7 -16.8l-9.9 -10.7l-2.5 -2.5l-10.8 -12.6l-0.5 -0.6l-10.2 -13.1l-2.6 -5.5l-4.9 -7.7l-2.8 -13.2l2.8 -13.2l4.9 -7.7l2.6 -5.5l10.2 -13.1l0.5 -0.6l10.8 -12.6l2.5 -2.5l9.9 -10.7l16.7 -16.8l9.9 -9.6l3.4 -3.3l10.8 -9.8l2.5 -2.5l12.4 -10.7l0.9 -0.9l13.3 -10.7l2.8 -1.6l10.5 -7.6l11.8 -5.6l1.5 -1l13.3 -5.5l13.3 -3.6l13.3 -2l13.3 -0.4l13.3 1.1l13.3 2.9l13.3 5l6.8 3.5l6.5 3.7l12.9 9.5l13.7 13.4l10.4 13l8.2 13.1l6.5 13.2l1.5 3.9l3.8 9.3l4.1 13.2l3 13.2l1.9 13.1l1.3 13.2l0.4 13.2l-0.4 13.2l-1.3 13.2l-1.9 13.1l-3 13.2l-4.1 13.2l-3.8 9.3l-1.5 3.9l-6.5 13.2l-8.2 13.1l-10.6 13.2l-13.5 13.2l-12.9 9.5l-6.5 3.7z"/>
<path class="c6" d="M2134.6 1712.3l-13.3 5.5l-13.3 3.6l-13.3 1.9l-13.3 0.4l-13.3 -1.1l-13.3 -3l-13.3 -5.2l-6 -3.1l-7.3 -4.2l-12 -9l-1.3 -1.1l-12.2 -12.1l-1.1 -1.3l-9.3 -11.9l-8.1 -13.1l-6.4 -13.2l-2.8 -7.5l-2.3 -5.7l-4 -13.2l-3 -13.2l-2 -13.1l-1.1 -13.2l-0.4 -13.2l0.4 -13.2l1.1 -13.2l2 -13.1l3 -13.2l4 -13.2l2.3 -5.7l2.8 -7.5l6.4 -13.2l8.1 -13.1l9.3 -11.9l1.1 -1.3l12.2 -12.1l1.3 -1.1l12 -9l7.4 -4.2l5.9 -3.1l13.3 -5.2l13.3 -3l13.3 -1.1l13.3 0.4l13.3 1.9l13.3 3.6l13.3 5.5l1.5 1l11.8 5.6l10.5 7.6l2.8 1.6l13.3 10.7l0.9 0.9l12.4 10.6l2.6 2.6l10.7 9.8l3.4 3.3l9.9 9.6l16.7 16.8l9.9 10.7l2.5 2.5l10.8 12.6l0.6 0.6l10.1 13.1l2.6 5.4l4.9 7.8l2.9 13.2l-2.8 13.2l-5 7.8l-2.6 5.4l-10.1 13.1l-0.6 0.6l-10.8 12.6l-2.5 2.5l-9.9 10.7l-16.7 16.8l-9.9 9.6l-3.4 3.3l-10.7 9.8l-2.6 2.6l-12.4 10.6l-0.9 0.9l-13.3 10.7l-2.8 1.6l-10.5 7.6l-11.8 5.6z"/>
<path class="c3" d="M2338.2 1500.4l9.2 -5.4l13.3 -10.2l13.3 -11.8l12.2 -12.1l11.8 -13.2l2.6 -3.4l7.9 -9.8l5.4 -8.5l3.3 -4.7l6.4 -13.2l3.6 -13.1l0.2 -13.2l-2.3 -13.2l-4.6 -13.2l-6.6 -12l-0.7 -1.2l-10.3 -13.1l-2.3 -2.5l-12.4 -10.7l-0.9 -0.8l-13.3 -8.7l-8.1 -3.7l-5.2 -2.6l-13.3 -4.8l-13.3 -3.1l-13.3 -1.7l-13.3 -0.5l-13.3 0.5l-13.3 1.7l-13.3 3.1l-13.3 4.8l-5.2 2.6l-8.1 3.7l-13.3 8.7l-0.9 0.8l-12.4 10.7l-2.3 2.5l-10.3 13.1l-0.7 1.2l-6.6 12l-4.6 13.2l-2.3 13.2l0.3 13.2l3.5 13.1l6.5 13.2l3.2 4.6l5.5 8.6l7.8 9.8l2.6 3.4l11.9 13.2l12.1 12l13.3 11.8l13.3 10.2l9.3 5.5l4 2.6l13.3 5.3l13.3 1.8l13.3 -1.8l13.3 -5.3z"/>
<path class="c3" d="M2365.9 1829.9l8.1 -3.8l13.3 -8.6l13.3 -11.5l2.3 -2.5l10.3 -13.1l0.7 -1.2l6.6 -12l4.6 -13.2l2.3 -13.2l-0.2 -13.2l-3.6 -13.1l-6.4 -13.2l-3.3 -4.7l-5.4 -8.5l-7.9 -9.8l-2.6 -3.4l-11.8 -13.2l-12.2 -12l-13.3 -11.9l-13.3 -10.1l-9.3 -5.5l-4 -2.6l-13.3 -5.3l-13.3 -1.8l-13.3 1.8l-13.3 5.3l-4 2.6l-9.3 5.5l-13.3 10.2l-12.1 10.7l-1.2 1.1l-12.1 12l-11.9 13.2l-2.6 3.4l-7.8 9.8l-5.5 8.6l-3.2 4.6l-6.5 13.2l-3.5 13.1l-0.3 13.2l2.3 13.2l4.6 13.2l6.6 12l0.7 1.2l10.3 13.1l2.3 2.5l12.4 10.7l0.9 0.7l13.3 8.7l8.1 3.8l5.2 2.5l13.3 4.8l13.3 3.1l13.3 1.8l13.3 0.5l13.3 -0.5l13.3 -1.8l13.3 -3.1l13.3 -4.8z"/>
<path class="c7" d="M2520.3 1676.7l-13.3 4.8l-13.3 2.5l-13.3 -0.1l-13.3 -3.5l-13.3 -6.4l-3.3 -2.3l-10 -6.2l-8.8 -6.9l-4.5 -3.4l-13.3 -11.8l-11.3 -11.2l-2 -2.1l-9.9 -11.1l-10.3 -13.2l-6.4 -10.6l-1.6 -2.5l-5.4 -13.2l-1.9 -13.2l1.9 -13.2l5.4 -13.2l1.6 -2.5l6.4 -10.6l10.3 -13.2l11.9 -13.2l11.3 -11.2l13.3 -11.8l4.5 -3.4l8.8 -6.9l10 -6.2l3.3 -2.3l13.3 -6.4l13.3 -3.5l13.3 -0.1l13.3 2.5l13.3 4.8l9.2 5l4.1 2.5l13.2 10.6l12 13.2l8.9 13.2l6.3 13.2l5 13.2l3.3 13.1l1.8 13.2l0.6 13.2l-0.6 13.2l-1.8 13.2l-3.3 13.1l-5 13.2l-6.3 13.2l-8.9 13.2l-11.9 13.1l-13.3 10.7l-4.1 2.5z"/>
<path class="c7" d="M2161.2 1674.0l-13.3 6.4l-13.3 3.5l-13.3 0.1l-13.3 -2.5l-13.3 -4.9l-9.1 -4.9l-4.2 -2.6l-13.3 -10.7l-11.7 -13l-8.9 -13.2l-6.2 -13.2l-5.1 -13.2l-3.2 -13.1l-1.8 -13.2l-0.6 -13.2l0.6 -13.2l1.8 -13.2l3.2 -13.1l5.1 -13.2l6.2 -13.2l8.9 -13.2l11.9 -13.2l13.1 -10.5l4.2 -2.6l9.1 -4.9l13.3 -4.9l13.3 -2.5l13.3 0.1l13.3 3.5l13.3 6.4l3.4 2.3l9.9 6.2l8.9 6.9l4.4 3.4l13.3 11.8l11.4 11.2l11.9 13.2l10.3 13.2l6.3 10.5l1.7 2.6l5.4 13.2l1.8 13.2l-1.8 13.2l-5.4 13.2l-1.7 2.6l-6.3 10.5l-10.3 13.2l-11.9 13.2l-11.4 11.2l-13.3 11.8l-4.4 3.4l-8.9 6.9l-9.9 6.2z"/>
<path class="c2" d="M2324.9 1487.2l9.2 -3.3l13.3 -7.6l2.9 -2.3l10.4 -8l5.6 -5.1l7.7 -7.8l5 -5.4l10.2 -13.2l7.8 -13.2l3.6 -9.1l1.7 -4.1l2.2 -13.1l-1.5 -13.2l-2.4 -5.7l-3.5 -7.5l-9.8 -12.4l-0.8 -0.8l-12.5 -10.9l-13.3 -8.4l-13.3 -5.6l-5.2 -1.4l-8.1 -2.6l-13.3 -2.4l-13.3 -0.7l-13.3 0.8l-13.3 2.3l-8.1 2.6l-5.2 1.4l-13.3 5.6l-13.3 8.4l-12.5 10.9l-0.8 0.9l-9.8 12.3l-3.5 7.6l-2.4 5.6l-1.5 13.2l2.2 13.1l1.7 4l3.6 9.2l7.8 13.2l10.3 13.2l4.9 5.3l7.8 7.9l5.5 5l10.4 8.1l2.9 2.2l13.3 7.7l13.3 4.8l13.3 1.7l13.3 -1.7z"/>
<path class="c2" d="M2342.2 1803.5l5.2 -1.4l13.3 -5.6l13.3 -8.4l12.5 -10.9l0.8 -0.8l9.8 -12.4l3.5 -7.5l2.4 -5.7l1.5 -13.2l-2.2 -13.1l-1.7 -4.1l-3.6 -9.1l-7.8 -13.2l-10.2 -13.2l-5 -5.4l-7.7 -7.8l-5.6 -5l-10.4 -8.1l-2.9 -2.2l-13.3 -7.7l-13.3 -4.8l-13.3 -1.7l-13.3 1.7l-13.3 4.8l-13.3 7.7l-2.9 2.2l-10.4 8.1l-5.5 5l-7.8 7.9l-4.9 5.3l-8.4 10.8l-1.9 2.4l-7.8 13.2l-3.6 9.2l-1.7 4l-2.2 13.1l1.5 13.2l2.4 5.6l3.5 7.6l9.8 12.3l0.8 0.9l12.5 10.9l13.3 8.4l13.3 5.6l5.3 1.4l8 2.6l13.3 2.3l13.3 0.8l13.3 -0.8l13.3 -2.3z"/>
<path class="c8" d="M2493.7 1659.9l-13.3 1.6l-13.3 -2.2l-13.3 -5.2l-13.3 -7.7l-13.3 -10.2l-4.5 -4l-8.8 -8.6l-4.2 -4.6l-10.5 -13.2l-7.7 -13.1l-4.8 -13.2l-1.7 -13.2l1.7 -13.2l4.8 -13.2l7.7 -13.1l10.5 -13.2l4.2 -4.6l8.8 -8.6l4.5 -4l12 -9.2l1.3 -1l13.3 -7.7l13.3 -5.2l13.3 -2.2l13.3 1.6l3.3 1.3l10 4.6l11.1 8.6l2.2 2.2l9.8 11l8.5 13.2l5.8 13.2l2.5 8.9l1.4 4.2l2.4 13.2l0.8 13.2l-0.8 13.2l-2.4 13.2l-1.4 4.2l-2.5 8.9l-5.8 13.2l-8.5 13.2l-9.8 11l-2.2 2.2l-11.1 8.6l-10 4.6z"/>
<path class="c8" d="M2147.9 1659.3l-13.3 2.2l-13.3 -1.6l-3.2 -1.3l-10.1 -4.7l-11 -8.5l-2.3 -2.3l-9.8 -10.9l-8.4 -13.2l-5.8 -13.2l-2.6 -9.2l-1.3 -3.9l-2.4 -13.2l-0.8 -13.2l0.8 -13.2l2.4 -13.2l1.3 -3.9l2.6 -9.2l5.8 -13.2l8.4 -13.2l9.8 -10.9l2.3 -2.3l11 -8.5l10.1 -4.7l3.2 -1.3l13.3 -1.6l13.3 2.2l13.3 5.1l13.3 7.8l1.4 1l11.9 9.1l4.5 4.1l8.8 8.6l4.3 4.6l10.4 13.2l7.7 13.1l4.9 13.2l1.7 13.2l-1.7 13.2l-4.9 13.2l-7.7 13.1l-10.4 13.2l-4.3 4.6l-8.8 8.6l-4.5 4.1l-13.3 10.1l-13.3 7.8z"/>
<path class="c1" d="M2340.7 1460.9l6.7 -4.5l10.1 -8.7l3.2 -3.4l8.2 -9.8l5.1 -8.3l2.9 -4.9l4.5 -13.2l1.1 -13.1l-3.3 -13.2l-5.2 -8.4l-3.7 -4.8l-9.6 -7.8l-8.8 -5.4l-4.5 -2.3l-13.3 -4.6l-13.3 -2.6l-13.3 -0.8l-13.3 0.8l-13.3 2.6l-13.3 4.6l-4.5 2.3l-8.8 5.4l-9.6 7.8l-3.7 4.9l-5.2 8.3l-3.2 13.2l1 13.1l4.6 13.2l2.8 4.9l5.2 8.3l8.1 9.8l3.3 3.4l10 8.6l6.8 4.6l6.5 3.8l13.3 5l13.3 1.8l13.3 -1.7l13.3 -5z"/>
<path class="c1" d="M2352.0 1777.2l8.7 -5.4l9.6 -7.8l3.7 -4.8l5.2 -8.4l3.3 -13.2l-1.1 -13.1l-4.6 -13.2l-2.8 -4.9l-5.1 -8.3l-8.2 -9.8l-3.2 -3.4l-10.1 -8.7l-6.7 -4.5l-6.6 -3.9l-13.3 -4.9l-13.3 -1.7l-13.3 1.7l-13.3 5l-6.5 3.8l-6.8 4.6l-10 8.6l-3.3 3.4l-8.1 9.8l-5.2 8.3l-2.8 4.9l-4.6 13.2l-1 13.1l3.2 13.2l5.2 8.3l3.7 4.9l9.6 7.8l8.8 5.4l4.5 2.3l13.3 4.6l13.3 2.6l13.3 0.8l13.3 -0.8l13.3 -2.6l13.3 -4.6z"/>
<path class="c9" d="M2161.2 1634.1l-13.3 4.5l-13.3 1l-13.3 -3.3l-6.7 -4.1l-6.6 -4.9l-6.8 -8.3l-6.5 -10.4l-1.5 -2.8l-4.7 -13.1l-2.6 -13.2l-0.8 -13.2l0.8 -13.2l2.6 -13.2l4.7 -13.1l1.5 -2.8l6.5 -10.4l6.8 -8.3l6.6 -4.9l6.7 -4.1l13.3 -3.3l13.3 1l13.3 4.5l3.4 1.9l9.9 6l8.8 7.2l4.5 4.3l7.8 8.9l5.5 8.1l3.1 5l5 13.2l1.7 13.2l-1.7 13.2l-5 13.2l-3.1 5l-5.5 8.1l-7.8 8.9l-4.5 4.3l-8.8 7.2l-9.9 6z"/>
<path class="c9" d="M2493.7 1636.3l-13.3 3.3l-13.3 -1l-13.3 -4.5l-3.3 -1.9l-10 -6.1l-8.7 -7.1l-4.6 -4.3l-7.7 -8.9l-5.6 -8.2l-3 -4.9l-5 -13.2l-1.8 -13.2l1.8 -13.2l5 -13.2l3 -4.9l5.6 -8.2l7.7 -8.9l4.6 -4.3l8.7 -7.1l10 -6.1l3.3 -1.9l13.3 -4.5l13.3 -1l13.3 3.3l6.7 4.1l6.6 4.9l6.9 8.3l6.4 10.3l1.5 2.9l4.7 13.1l2.6 13.2l0.8 13.2l-0.8 13.2l-2.6 13.2l-4.7 13.1l-1.5 2.9l-6.4 10.3l-6.9 8.3l-6.6 4.9z"/>
<path class="c0" d="M2322.8 1447.7l11.3 -5.9l9.1 -7.3l4.2 -4.8l5.8 -8.4l4.7 -13.2l-0.3 -13.1l-6.5 -13.2l-3.7 -3.6l-13.3 -9.1l-1.3 -0.5l-12 -3.3l-13.3 -1.2l-13.3 1.2l-12 3.3l-1.3 0.5l-13.3 9.1l-3.6 3.6l-6.6 13.2l-0.3 13.1l4.8 13.2l5.7 8.4l4.2 4.8l9.1 7.3l11.3 5.9l2 0.8l13.3 1.9l13.3 -1.9z"/>
<path class="c0" d="M2332.8 1764.0l1.3 -0.5l13.3 -9.1l3.7 -3.6l6.5 -13.2l0.3 -13.1l-4.7 -13.2l-5.8 -8.4l-4.2 -4.8l-9.1 -7.3l-11.3 -5.9l-2 -0.8l-13.3 -1.9l-13.3 1.9l-1.9 0.8l-11.4 5.9l-9.1 7.3l-4.2 4.9l-5.7 8.3l-4.8 13.2l0.3 13.1l6.6 13.2l3.6 3.6l13.3 9.1l1.3 0.5l12 3.3l13.3 1.2l13.3 -1.2z"/>
<path class="c10" d="M2161.2 1610.4l-13.3 4.7l-13.3 -0.4l-13.3 -6.6l-2.2 -2.3l-9.3 -13.1l-1.8 -4.6l-2.4 -8.6l-1.3 -13.2l1.3 -13.2l2.4 -8.6l1.8 -4.6l9.3 -13.1l2.2 -2.3l13.3 -6.6l13.3 -0.4l13.3 4.7l6.7 4.6l6.6 5.6l6.2 7.5l6.9 13.2l2 13.2l-2 13.2l-6.9 13.2l-6.2 7.5l-6.6 5.6z"/>
<path class="c10" d="M2493.7 1608.1l-13.3 6.6l-13.3 0.3l-13.3 -4.7l-6.7 -4.5l-6.6 -5.7l-6.1 -7.4l-6.9 -13.2l-2 -13.2l2 -13.2l6.9 -13.2l6.1 -7.4l6.6 -5.7l6.7 -4.5l13.3 -4.7l13.3 0.3l13.3 6.6l2.2 2.3l9.3 13.1l1.8 4.5l2.5 8.7l1.2 13.2l-1.2 13.2l-2.5 8.7l-1.8 4.5l-9.3 13.1z"/>
</g></g><use href="#m6" class="dt"/></svg>
<rect x="2742.5" y="1136.7" width="3.5" height="859" fill="#68f098"/>
<text x="2311.7" y="1103.2">LP21</text>
</svg>
</body></html>
